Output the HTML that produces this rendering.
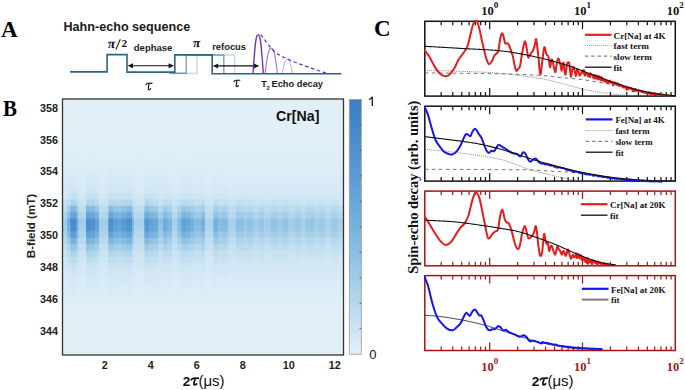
<!DOCTYPE html>
<html><head><meta charset="utf-8"><style>
html,body{margin:0;padding:0;background:#fff;}
body{width:685px;height:390px;overflow:hidden;}
svg{display:block;}
</style></head><body>
<svg width="685" height="390" viewBox="0 0 685 390">
<g font-family='"Liberation Serif", serif' font-weight="bold" font-size="23" fill="#000">
<text x="1" y="37.1">A</text>
<text transform="translate(3 115.6) scale(0.91 1)">B</text>
<text x="374" y="36">C</text>
</g>
<text x="63.5" y="30.8" font-family='"Liberation Sans", sans-serif' font-weight="bold" font-size="12.6" fill="#1a1a1a">Hahn-echo sequence</text>
<path d="M169.5 73.3 H186.3 V54.9 H223.8 V73.6" fill="none" stroke="#2a6386" stroke-width="1.5" opacity="0.55"/>
<path d="M169.5 73.5 H197 V54.9 H234.6 V73.6" fill="none" stroke="#2a6386" stroke-width="1.5" opacity="0.25"/>
<path d="M70 71.9 H107.1 V54.6 H127 V72.1 H174.8 V54.9 H212.2 V73.7 H341.5" fill="none" stroke="#2a6386" stroke-width="1.6" stroke-linejoin="miter"/>
<line x1="130.6" y1="65.8" x2="171.0" y2="65.8" stroke="#111" stroke-width="1.1"/><path d="M127.6 65.8 l5.4 -2.5 v5 z" fill="#111"/><path d="M174.0 65.8 l-5.4 -2.5 v5 z" fill="#111"/>
<line x1="215.8" y1="65.9" x2="256.3" y2="65.9" stroke="#111" stroke-width="1.1"/><path d="M212.8 65.9 l5.4 -2.5 v5 z" fill="#111"/><path d="M259.3 65.9 l-5.4 -2.5 v5 z" fill="#111"/>
<path d="M253.0 73.6 C255.3 38.5 256.3 34.6 258.1 34.6 C259.9 34.6 261.0 38.5 263.3 73.6" fill="none" stroke="#6a2cc0" stroke-width="1.3"/>
<path d="M265.1 73.6 C267.9 50.9 269.1 48.4 271.3 48.4 C273.5 48.4 274.7 50.9 277.5 73.6" fill="none" stroke="#6a2cc0" stroke-width="1.1" opacity="0.65"/>
<path d="M282.2 73.6 C284.5 60.7 285.5 59.3 287.3 59.3 C289.1 59.3 290.1 60.7 292.4 73.6" fill="none" stroke="#6a2cc0" stroke-width="1.0" opacity="0.42"/>
<path d="M260.80 34.60 L261.50 35.57 L262.20 36.54 L262.90 37.50 L263.60 38.46 L264.30 39.41 L265.00 40.37 L265.70 41.32 L266.40 42.24 L267.10 43.11 L267.80 43.96 L268.50 44.82 L269.20 45.68 L269.90 46.54 L270.60 47.38 L271.30 48.20 L272.00 49.01 L272.70 49.78 L273.40 50.52 L274.10 51.21 L274.80 51.83 L275.50 52.41 L276.20 52.94 L276.90 53.43 L277.60 53.89 L278.30 54.32 L279.00 54.73 L279.70 55.14 L280.40 55.54 L281.10 55.94 L281.80 56.32 L282.50 56.68 L283.20 57.02 L283.90 57.35 L284.60 57.68 L285.30 58.00 L286.00 58.31 L286.70 58.63 L287.40 58.95 L288.10 59.26 L288.80 59.58 L289.50 59.89 L290.20 60.19 L290.90 60.50 L291.60 60.80 L292.30 61.09 L293.00 61.39 L293.70 61.68 L294.40 61.96 L295.10 62.24 L295.80 62.51 L296.50 62.78 L297.20 63.05 L297.90 63.31 L298.60 63.57 L299.30 63.83 L300.00 64.08 L300.70 64.33 L301.40 64.58 L302.10 64.83 L302.80 65.08 L303.50 65.34 L304.20 65.59 L304.90 65.84 L305.60 66.09 L306.30 66.34 L307.00 66.59 L307.70 66.84 L308.40 67.09 L309.10 67.33 L309.80 67.58 L310.50 67.83 L311.20 68.07 L311.90 68.32 L312.60 68.56 L313.30 68.81 L314.00 69.05 L314.70 69.30 L315.40 69.54 L316.10 69.78 L316.80 70.02 L317.50 70.26 L318.20 70.50 L318.90 70.73 L319.60 70.97 L320.30 71.21 L321.00 71.45 L321.70 71.68 L322.40 71.92 L323.10 72.15 L323.80 72.39 L324.50 72.62 L325.20 72.86 L325.90 73.10 L326.60 73.33" fill="none" stroke="#6a2cc0" stroke-width="1.2" stroke-dasharray="3.6 2.6"/>
<g font-family='"Liberation Sans", sans-serif' font-weight="bold" fill="#1a1a1a">
<text x="133.8" y="50.8" font-size="9.5">dephase</text>
<text x="212.2" y="50.2" font-size="9.4">refocus</text>
<text x="261.3" y="87.3" font-size="8.95">T<tspan font-size="5.6" dy="2.3" dx="-0.3">2</tspan><tspan dy="-2.3" dx="-0.6" font-size="9.25"> Echo decay</tspan></text>
</g>
<g font-family='"Liberation Serif", serif' fill="#111">
<text transform="translate(107.3 47.8) skewX(-8)" font-size="13.4" font-weight="bold">&#960;</text>
<line x1="115.9" y1="49.6" x2="120.3" y2="39.3" stroke="#111" stroke-width="1.05"/>
<text x="121.4" y="47.3" font-size="11.2" font-weight="bold">2</text>
<text transform="translate(192.5 46.8) skewX(-8)" font-size="13" font-weight="bold">&#960;</text>
</g>
<path d="M145.90 84.70 C146.40 83.60 147.00 83.25 148.00 83.20 L152.10 83.10 M149.20 83.30 C148.70 85.50 148.00 87.80 148.30 89.20 C148.60 90.20 150.00 89.90 150.60 88.60" fill="none" stroke="#111" stroke-width="1.15" stroke-linecap="round"/>
<path d="M233.90 81.72 C234.38 80.67 234.94 80.34 235.90 80.30 L239.79 80.20 M237.03 80.39 C236.56 82.48 235.90 84.67 236.18 86.00 C236.47 86.95 237.80 86.66 238.37 85.42" fill="none" stroke="#111" stroke-width="1.15" stroke-linecap="round"/>
<defs>
<linearGradient id="hcol" gradientUnits="userSpaceOnUse" x1="62.5" y1="0" x2="343.5" y2="0"><stop offset="0.0000" stop-color="#fff" stop-opacity="0.190"/><stop offset="0.0160" stop-color="#fff" stop-opacity="0.190"/><stop offset="0.0167" stop-color="#fff" stop-opacity="0.450"/><stop offset="0.0278" stop-color="#fff" stop-opacity="0.450"/><stop offset="0.0288" stop-color="#fff" stop-opacity="0.850"/><stop offset="0.0491" stop-color="#fff" stop-opacity="0.850"/><stop offset="0.0502" stop-color="#fff" stop-opacity="0.500"/><stop offset="0.0562" stop-color="#fff" stop-opacity="0.500"/><stop offset="0.0573" stop-color="#fff" stop-opacity="0.190"/><stop offset="0.0829" stop-color="#fff" stop-opacity="0.190"/><stop offset="0.0840" stop-color="#fff" stop-opacity="0.820"/><stop offset="0.0989" stop-color="#fff" stop-opacity="0.820"/><stop offset="0.1000" stop-color="#fff" stop-opacity="0.780"/><stop offset="0.1149" stop-color="#fff" stop-opacity="0.780"/><stop offset="0.1160" stop-color="#fff" stop-opacity="0.600"/><stop offset="0.1292" stop-color="#fff" stop-opacity="0.600"/><stop offset="0.1302" stop-color="#fff" stop-opacity="0.190"/><stop offset="0.1630" stop-color="#fff" stop-opacity="0.190"/><stop offset="0.1641" stop-color="#fff" stop-opacity="0.800"/><stop offset="0.1790" stop-color="#fff" stop-opacity="0.800"/><stop offset="0.1801" stop-color="#fff" stop-opacity="0.650"/><stop offset="0.1950" stop-color="#fff" stop-opacity="0.650"/><stop offset="0.1961" stop-color="#fff" stop-opacity="0.600"/><stop offset="0.2110" stop-color="#fff" stop-opacity="0.600"/><stop offset="0.2121" stop-color="#fff" stop-opacity="0.700"/><stop offset="0.2288" stop-color="#fff" stop-opacity="0.700"/><stop offset="0.2299" stop-color="#fff" stop-opacity="0.800"/><stop offset="0.2466" stop-color="#fff" stop-opacity="0.800"/><stop offset="0.2477" stop-color="#fff" stop-opacity="0.400"/><stop offset="0.2537" stop-color="#fff" stop-opacity="0.400"/><stop offset="0.2548" stop-color="#fff" stop-opacity="0.150"/><stop offset="0.2911" stop-color="#fff" stop-opacity="0.150"/><stop offset="0.2922" stop-color="#fff" stop-opacity="0.720"/><stop offset="0.3071" stop-color="#fff" stop-opacity="0.720"/><stop offset="0.3082" stop-color="#fff" stop-opacity="0.600"/><stop offset="0.3231" stop-color="#fff" stop-opacity="0.600"/><stop offset="0.3242" stop-color="#fff" stop-opacity="0.550"/><stop offset="0.3391" stop-color="#fff" stop-opacity="0.550"/><stop offset="0.3402" stop-color="#fff" stop-opacity="0.300"/><stop offset="0.3569" stop-color="#fff" stop-opacity="0.300"/><stop offset="0.3580" stop-color="#fff" stop-opacity="0.500"/><stop offset="0.3730" stop-color="#fff" stop-opacity="0.500"/><stop offset="0.3740" stop-color="#fff" stop-opacity="0.400"/><stop offset="0.3890" stop-color="#fff" stop-opacity="0.400"/><stop offset="0.3900" stop-color="#fff" stop-opacity="0.150"/><stop offset="0.4085" stop-color="#fff" stop-opacity="0.150"/><stop offset="0.4096" stop-color="#fff" stop-opacity="0.350"/><stop offset="0.4228" stop-color="#fff" stop-opacity="0.350"/><stop offset="0.4238" stop-color="#fff" stop-opacity="0.600"/><stop offset="0.4388" stop-color="#fff" stop-opacity="0.600"/><stop offset="0.4399" stop-color="#fff" stop-opacity="0.550"/><stop offset="0.4548" stop-color="#fff" stop-opacity="0.550"/><stop offset="0.4559" stop-color="#fff" stop-opacity="0.450"/><stop offset="0.4680" stop-color="#fff" stop-opacity="0.450"/><stop offset="0.4690" stop-color="#fff" stop-opacity="0.350"/><stop offset="0.4922" stop-color="#fff" stop-opacity="0.350"/><stop offset="0.4932" stop-color="#fff" stop-opacity="0.450"/><stop offset="0.5064" stop-color="#fff" stop-opacity="0.450"/><stop offset="0.5075" stop-color="#fff" stop-opacity="0.123"/><stop offset="0.5367" stop-color="#fff" stop-opacity="0.123"/><stop offset="0.5377" stop-color="#fff" stop-opacity="0.451"/><stop offset="0.5527" stop-color="#fff" stop-opacity="0.451"/><stop offset="0.5537" stop-color="#fff" stop-opacity="0.328"/><stop offset="0.5669" stop-color="#fff" stop-opacity="0.328"/><stop offset="0.5680" stop-color="#fff" stop-opacity="0.369"/><stop offset="0.5847" stop-color="#fff" stop-opacity="0.369"/><stop offset="0.5858" stop-color="#fff" stop-opacity="0.246"/><stop offset="0.5936" stop-color="#fff" stop-opacity="0.246"/><stop offset="0.5947" stop-color="#fff" stop-opacity="0.123"/><stop offset="0.6160" stop-color="#fff" stop-opacity="0.180"/><stop offset="0.6174" stop-color="#fff" stop-opacity="0.270"/><stop offset="0.6185" stop-color="#fff" stop-opacity="0.324"/><stop offset="0.6409" stop-color="#fff" stop-opacity="0.306"/><stop offset="0.6566" stop-color="#fff" stop-opacity="0.216"/><stop offset="0.6577" stop-color="#fff" stop-opacity="0.297"/><stop offset="0.6779" stop-color="#fff" stop-opacity="0.288"/><stop offset="0.6790" stop-color="#fff" stop-opacity="0.198"/><stop offset="0.6982" stop-color="#fff" stop-opacity="0.198"/><stop offset="0.6993" stop-color="#fff" stop-opacity="0.270"/><stop offset="0.7171" stop-color="#fff" stop-opacity="0.270"/><stop offset="0.7181" stop-color="#fff" stop-opacity="0.180"/><stop offset="0.7399" stop-color="#fff" stop-opacity="0.180"/><stop offset="0.7409" stop-color="#fff" stop-opacity="0.270"/><stop offset="0.7655" stop-color="#fff" stop-opacity="0.270"/><stop offset="0.7665" stop-color="#fff" stop-opacity="0.198"/><stop offset="0.7811" stop-color="#fff" stop-opacity="0.198"/><stop offset="0.7822" stop-color="#fff" stop-opacity="0.270"/><stop offset="0.8036" stop-color="#fff" stop-opacity="0.270"/><stop offset="0.8046" stop-color="#fff" stop-opacity="0.180"/><stop offset="0.8260" stop-color="#fff" stop-opacity="0.180"/><stop offset="0.8270" stop-color="#fff" stop-opacity="0.252"/><stop offset="0.8488" stop-color="#fff" stop-opacity="0.252"/><stop offset="0.8498" stop-color="#fff" stop-opacity="0.162"/><stop offset="0.8644" stop-color="#fff" stop-opacity="0.162"/><stop offset="0.8655" stop-color="#fff" stop-opacity="0.252"/><stop offset="0.8964" stop-color="#fff" stop-opacity="0.252"/><stop offset="0.8975" stop-color="#fff" stop-opacity="0.180"/><stop offset="0.9125" stop-color="#fff" stop-opacity="0.180"/><stop offset="0.9135" stop-color="#fff" stop-opacity="0.234"/><stop offset="0.9349" stop-color="#fff" stop-opacity="0.234"/><stop offset="0.9359" stop-color="#fff" stop-opacity="0.144"/><stop offset="0.9537" stop-color="#fff" stop-opacity="0.144"/><stop offset="0.9548" stop-color="#fff" stop-opacity="0.234"/><stop offset="0.9794" stop-color="#fff" stop-opacity="0.234"/><stop offset="0.9804" stop-color="#fff" stop-opacity="0.162"/><stop offset="1.0000" stop-color="#fff" stop-opacity="0.162"/></linearGradient>
<linearGradient id="vrow" gradientUnits="userSpaceOnUse" x1="0" y1="99.0" x2="0" y2="355.0"><stop offset="0.0000" stop-color="#fff" stop-opacity="0.000"/><stop offset="0.1715" stop-color="#fff" stop-opacity="0.000"/><stop offset="0.1879" stop-color="#fff" stop-opacity="0.000"/><stop offset="0.1965" stop-color="#fff" stop-opacity="0.010"/><stop offset="0.2129" stop-color="#fff" stop-opacity="0.010"/><stop offset="0.2215" stop-color="#fff" stop-opacity="0.012"/><stop offset="0.2379" stop-color="#fff" stop-opacity="0.012"/><stop offset="0.2465" stop-color="#fff" stop-opacity="0.015"/><stop offset="0.2629" stop-color="#fff" stop-opacity="0.015"/><stop offset="0.2715" stop-color="#fff" stop-opacity="0.020"/><stop offset="0.2879" stop-color="#fff" stop-opacity="0.020"/><stop offset="0.2965" stop-color="#fff" stop-opacity="0.030"/><stop offset="0.3129" stop-color="#fff" stop-opacity="0.030"/><stop offset="0.3215" stop-color="#fff" stop-opacity="0.040"/><stop offset="0.3379" stop-color="#fff" stop-opacity="0.040"/><stop offset="0.3465" stop-color="#fff" stop-opacity="0.060"/><stop offset="0.3629" stop-color="#fff" stop-opacity="0.060"/><stop offset="0.3715" stop-color="#fff" stop-opacity="0.090"/><stop offset="0.3879" stop-color="#fff" stop-opacity="0.090"/><stop offset="0.3965" stop-color="#fff" stop-opacity="0.200"/><stop offset="0.4129" stop-color="#fff" stop-opacity="0.200"/><stop offset="0.4215" stop-color="#fff" stop-opacity="0.460"/><stop offset="0.4379" stop-color="#fff" stop-opacity="0.460"/><stop offset="0.4465" stop-color="#fff" stop-opacity="0.700"/><stop offset="0.4629" stop-color="#fff" stop-opacity="0.700"/><stop offset="0.4715" stop-color="#fff" stop-opacity="1.000"/><stop offset="0.4879" stop-color="#fff" stop-opacity="1.000"/><stop offset="0.4965" stop-color="#fff" stop-opacity="0.950"/><stop offset="0.5129" stop-color="#fff" stop-opacity="0.950"/><stop offset="0.5215" stop-color="#fff" stop-opacity="0.740"/><stop offset="0.5379" stop-color="#fff" stop-opacity="0.740"/><stop offset="0.5465" stop-color="#fff" stop-opacity="0.520"/><stop offset="0.5629" stop-color="#fff" stop-opacity="0.520"/><stop offset="0.5715" stop-color="#fff" stop-opacity="0.340"/><stop offset="0.5879" stop-color="#fff" stop-opacity="0.340"/><stop offset="0.5965" stop-color="#fff" stop-opacity="0.210"/><stop offset="0.6129" stop-color="#fff" stop-opacity="0.210"/><stop offset="0.6215" stop-color="#fff" stop-opacity="0.130"/><stop offset="0.6379" stop-color="#fff" stop-opacity="0.130"/><stop offset="0.6465" stop-color="#fff" stop-opacity="0.080"/><stop offset="0.6629" stop-color="#fff" stop-opacity="0.080"/><stop offset="0.6715" stop-color="#fff" stop-opacity="0.060"/><stop offset="0.6879" stop-color="#fff" stop-opacity="0.060"/><stop offset="0.6965" stop-color="#fff" stop-opacity="0.045"/><stop offset="0.7129" stop-color="#fff" stop-opacity="0.045"/><stop offset="0.7215" stop-color="#fff" stop-opacity="0.035"/><stop offset="0.7379" stop-color="#fff" stop-opacity="0.035"/><stop offset="0.7465" stop-color="#fff" stop-opacity="0.025"/><stop offset="0.7629" stop-color="#fff" stop-opacity="0.025"/><stop offset="0.7715" stop-color="#fff" stop-opacity="0.015"/><stop offset="0.7879" stop-color="#fff" stop-opacity="0.015"/><stop offset="0.7965" stop-color="#fff" stop-opacity="0.010"/><stop offset="0.8129" stop-color="#fff" stop-opacity="0.010"/><stop offset="0.8215" stop-color="#fff" stop-opacity="0.000"/><stop offset="0.8379" stop-color="#fff" stop-opacity="0.000"/><stop offset="1.0000" stop-color="#fff" stop-opacity="0.000"/></linearGradient>
<linearGradient id="vbg" gradientUnits="userSpaceOnUse" x1="0" y1="99.0" x2="0" y2="355.0"><stop offset="0.0000" stop-color="rgb(0,0,0)"/><stop offset="0.1715" stop-color="rgb(0,0,0)"/><stop offset="0.1879" stop-color="rgb(0,0,0)"/><stop offset="0.1965" stop-color="rgb(2,2,2)"/><stop offset="0.2129" stop-color="rgb(2,2,2)"/><stop offset="0.2215" stop-color="rgb(3,3,3)"/><stop offset="0.2379" stop-color="rgb(3,3,3)"/><stop offset="0.2465" stop-color="rgb(4,4,4)"/><stop offset="0.2629" stop-color="rgb(4,4,4)"/><stop offset="0.2715" stop-color="rgb(5,5,5)"/><stop offset="0.2879" stop-color="rgb(5,5,5)"/><stop offset="0.2965" stop-color="rgb(7,7,7)"/><stop offset="0.3129" stop-color="rgb(7,7,7)"/><stop offset="0.3215" stop-color="rgb(8,8,8)"/><stop offset="0.3379" stop-color="rgb(8,8,8)"/><stop offset="0.3465" stop-color="rgb(10,10,10)"/><stop offset="0.3629" stop-color="rgb(10,10,10)"/><stop offset="0.3715" stop-color="rgb(13,13,13)"/><stop offset="0.3879" stop-color="rgb(13,13,13)"/><stop offset="0.3965" stop-color="rgb(18,18,18)"/><stop offset="0.4129" stop-color="rgb(18,18,18)"/><stop offset="0.4215" stop-color="rgb(23,23,23)"/><stop offset="0.4379" stop-color="rgb(23,23,23)"/><stop offset="0.4465" stop-color="rgb(26,26,26)"/><stop offset="0.4629" stop-color="rgb(26,26,26)"/><stop offset="0.4715" stop-color="rgb(31,31,31)"/><stop offset="0.4879" stop-color="rgb(31,31,31)"/><stop offset="0.4965" stop-color="rgb(31,31,31)"/><stop offset="0.5129" stop-color="rgb(31,31,31)"/><stop offset="0.5215" stop-color="rgb(26,26,26)"/><stop offset="0.5379" stop-color="rgb(26,26,26)"/><stop offset="0.5465" stop-color="rgb(23,23,23)"/><stop offset="0.5629" stop-color="rgb(23,23,23)"/><stop offset="0.5715" stop-color="rgb(20,20,20)"/><stop offset="0.5879" stop-color="rgb(20,20,20)"/><stop offset="0.5965" stop-color="rgb(18,18,18)"/><stop offset="0.6129" stop-color="rgb(18,18,18)"/><stop offset="0.6215" stop-color="rgb(15,15,15)"/><stop offset="0.6379" stop-color="rgb(15,15,15)"/><stop offset="0.6465" stop-color="rgb(13,13,13)"/><stop offset="0.6629" stop-color="rgb(13,13,13)"/><stop offset="0.6715" stop-color="rgb(10,10,10)"/><stop offset="0.6879" stop-color="rgb(10,10,10)"/><stop offset="0.6965" stop-color="rgb(8,8,8)"/><stop offset="0.7129" stop-color="rgb(8,8,8)"/><stop offset="0.7215" stop-color="rgb(6,6,6)"/><stop offset="0.7379" stop-color="rgb(6,6,6)"/><stop offset="0.7465" stop-color="rgb(5,5,5)"/><stop offset="0.7629" stop-color="rgb(5,5,5)"/><stop offset="0.7715" stop-color="rgb(3,3,3)"/><stop offset="0.7879" stop-color="rgb(3,3,3)"/><stop offset="0.7965" stop-color="rgb(1,1,1)"/><stop offset="0.8129" stop-color="rgb(1,1,1)"/><stop offset="0.8215" stop-color="rgb(0,0,0)"/><stop offset="0.8379" stop-color="rgb(0,0,0)"/><stop offset="1.0000" stop-color="rgb(0,0,0)"/></linearGradient>
<mask id="mrow" maskUnits="userSpaceOnUse" x="62.5" y="99.0" width="281.0" height="256.0"><rect x="62.5" y="99.0" width="281.0" height="256.0" fill="url(#vrow)"/></mask>
<filter id="cmap" filterUnits="userSpaceOnUse" x="62.5" y="99.0" width="281.0" height="256.0" color-interpolation-filters="sRGB"><feGaussianBlur stdDeviation="0.6"/><feComponentTransfer><feFuncR type="table" tableValues="0.8824 0.6667 0.4627 0.3333 0.2353"/><feFuncG type="table" tableValues="0.9412 0.8235 0.6980 0.5882 0.4902"/><feFuncB type="table" tableValues="0.9725 0.9216 0.8667 0.8235 0.7686"/><feFuncA type="identity"/></feComponentTransfer></filter>
<linearGradient id="cbar" x1="0" y1="1" x2="0" y2="0"><stop offset="0.00" stop-color="rgb(225,240,248)"/><stop offset="0.25" stop-color="rgb(170,210,235)"/><stop offset="0.50" stop-color="rgb(118,178,221)"/><stop offset="0.75" stop-color="rgb(85,150,210)"/><stop offset="1.00" stop-color="rgb(60,125,196)"/></linearGradient>
</defs>
<g filter="url(#cmap)">
<rect x="62.5" y="99.0" width="281.0" height="256.0" fill="url(#vbg)"/>
<rect x="62.5" y="99.0" width="281.0" height="256.0" fill="url(#hcol)" mask="url(#mrow)"/>
</g>
<rect x="62.5" y="99.0" width="281.0" height="256.0" fill="none" stroke="#333" stroke-width="1.3"/>
<text x="276" y="121.4" font-family='"Liberation Sans", sans-serif' font-weight="bold" font-size="14.2" fill="#111">Cr[Na]</text>
<g font-family='"Liberation Sans", sans-serif' font-weight="bold" font-size="10.8" fill="#222" text-anchor="end">
<text x="58" y="111.5">358</text>
<text x="58" y="143.5">356</text>
<text x="58" y="175.4">354</text>
<text x="58" y="207.3">352</text>
<text x="58" y="239.2">350</text>
<text x="58" y="271.1">348</text>
<text x="58" y="303.0">346</text>
<text x="58" y="334.9">344</text>
</g>
<g font-family='"Liberation Sans", sans-serif' font-weight="bold" font-size="10.8" fill="#222" text-anchor="middle">
<text x="104.8" y="368.8">2</text>
<text x="150.8" y="368.8">4</text>
<text x="196.8" y="368.8">6</text>
<text x="242.8" y="368.8">8</text>
<text x="288.8" y="368.8">10</text>
<text x="334.8" y="368.8">12</text>
</g>
<text transform="translate(34.6 226) rotate(-90)" text-anchor="middle" font-family='"Liberation Sans", sans-serif' font-weight="bold" font-size="11.6" fill="#222">B-field (mT)</text>
<g fill="#111"><text x="182.8" y="385.6" font-family='"Liberation Sans", sans-serif' font-weight="bold" font-size="13.6">2</text><path d="M191.30 379.80 C191.80 378.90 192.40 378.50 193.40 378.40 L198.30 378.20 M195.30 378.60 C194.60 380.50 193.70 382.60 193.80 384.00 C193.90 385.00 195.20 385.20 196.60 383.80" fill="none" stroke="#111" stroke-width="1.75" stroke-linecap="round"/><text x="198.4" y="385.6" font-family='"Liberation Sans", sans-serif' font-size="15">(&#956;s)</text></g>
<rect x="349.3" y="99.5" width="12" height="254.7" fill="url(#cbar)" stroke="#999" stroke-width="0.8"/>
<line x1="359.6" x2="361.3" y1="328.7" y2="328.7" stroke="#444" stroke-width="0.8"/>
<line x1="359.6" x2="361.3" y1="303.3" y2="303.3" stroke="#444" stroke-width="0.8"/>
<line x1="359.6" x2="361.3" y1="277.8" y2="277.8" stroke="#444" stroke-width="0.8"/>
<line x1="359.6" x2="361.3" y1="252.3" y2="252.3" stroke="#444" stroke-width="0.8"/>
<line x1="359.6" x2="361.3" y1="226.8" y2="226.8" stroke="#444" stroke-width="0.8"/>
<line x1="359.6" x2="361.3" y1="201.4" y2="201.4" stroke="#444" stroke-width="0.8"/>
<line x1="359.6" x2="361.3" y1="175.9" y2="175.9" stroke="#444" stroke-width="0.8"/>
<line x1="359.6" x2="361.3" y1="150.4" y2="150.4" stroke="#444" stroke-width="0.8"/>
<line x1="359.6" x2="361.3" y1="125.0" y2="125.0" stroke="#444" stroke-width="0.8"/>
<g font-family='"Liberation Sans", sans-serif' font-size="13" fill="#111">
</g><path d="M372.3 105.9 V96.7 M372.3 96.8 C371.6 98.2 370.5 99.0 369.0 99.6" fill="none" stroke="#111" stroke-width="1.25"/><g font-family='"Liberation Sans", sans-serif' font-size="13" fill="#111">
<text x="369.3" y="358.5">0</text>
</g>
<defs><clipPath id="cb0"><rect x="423.8" y="19.8" width="252.5" height="77.8"/></clipPath><clipPath id="cb1"><rect x="423.8" y="104.7" width="252.5" height="77.9"/></clipPath><clipPath id="cb2"><rect x="423.8" y="189.6" width="252.5" height="77.7"/></clipPath><clipPath id="cb3"><rect x="423.8" y="274.1" width="252.5" height="77.9"/></clipPath></defs>
<rect x="424.8" y="21.3" width="250.5" height="74.8" fill="none" stroke="#111" stroke-width="1.5"/>
<path d="M441.18 21.30v4.0M441.18 96.10v-4.0M452.77 21.30v4.0M452.77 96.10v-4.0M461.76 21.30v4.0M461.76 96.10v-4.0M469.11 21.30v4.0M469.11 96.10v-4.0M475.33 21.30v4.0M475.33 96.10v-4.0M480.71 21.30v4.0M480.71 96.10v-4.0M485.45 21.30v4.0M485.45 96.10v-4.0M489.70 21.30v8.0M489.70 96.10v-8.0M517.64 21.30v4.0M517.64 96.10v-4.0M533.98 21.30v4.0M533.98 96.10v-4.0M545.57 21.30v4.0M545.57 96.10v-4.0M554.56 21.30v4.0M554.56 96.10v-4.0M561.91 21.30v4.0M561.91 96.10v-4.0M568.13 21.30v4.0M568.13 96.10v-4.0M573.51 21.30v4.0M573.51 96.10v-4.0M578.25 21.30v4.0M578.25 96.10v-4.0M582.50 21.30v8.0M582.50 96.10v-8.0M610.44 21.30v4.0M610.44 96.10v-4.0M626.78 21.30v4.0M626.78 96.10v-4.0M638.37 21.30v4.0M638.37 96.10v-4.0M647.36 21.30v4.0M647.36 96.10v-4.0M654.71 21.30v4.0M654.71 96.10v-4.0M660.93 21.30v4.0M660.93 96.10v-4.0M666.31 21.30v4.0M666.31 96.10v-4.0M671.05 21.30v4.0M671.05 96.10v-4.0" stroke="#111" stroke-width="1.2" fill="none"/>
<rect x="424.8" y="106.2" width="250.5" height="74.9" fill="none" stroke="#111" stroke-width="1.5"/>
<path d="M441.18 106.20v4.0M441.18 181.10v-4.0M452.77 106.20v4.0M452.77 181.10v-4.0M461.76 106.20v4.0M461.76 181.10v-4.0M469.11 106.20v4.0M469.11 181.10v-4.0M475.33 106.20v4.0M475.33 181.10v-4.0M480.71 106.20v4.0M480.71 181.10v-4.0M485.45 106.20v4.0M485.45 181.10v-4.0M489.70 106.20v8.0M489.70 181.10v-8.0M517.64 106.20v4.0M517.64 181.10v-4.0M533.98 106.20v4.0M533.98 181.10v-4.0M545.57 106.20v4.0M545.57 181.10v-4.0M554.56 106.20v4.0M554.56 181.10v-4.0M561.91 106.20v4.0M561.91 181.10v-4.0M568.13 106.20v4.0M568.13 181.10v-4.0M573.51 106.20v4.0M573.51 181.10v-4.0M578.25 106.20v4.0M578.25 181.10v-4.0M582.50 106.20v8.0M582.50 181.10v-8.0M610.44 106.20v4.0M610.44 181.10v-4.0M626.78 106.20v4.0M626.78 181.10v-4.0M638.37 106.20v4.0M638.37 181.10v-4.0M647.36 106.20v4.0M647.36 181.10v-4.0M654.71 106.20v4.0M654.71 181.10v-4.0M660.93 106.20v4.0M660.93 181.10v-4.0M666.31 106.20v4.0M666.31 181.10v-4.0M671.05 106.20v4.0M671.05 181.10v-4.0" stroke="#111" stroke-width="1.2" fill="none"/>
<rect x="424.8" y="191.1" width="250.5" height="74.7" fill="none" stroke="#a31515" stroke-width="1.5"/>
<path d="M441.18 191.10v4.0M441.18 265.80v-4.0M452.77 191.10v4.0M452.77 265.80v-4.0M461.76 191.10v4.0M461.76 265.80v-4.0M469.11 191.10v4.0M469.11 265.80v-4.0M475.33 191.10v4.0M475.33 265.80v-4.0M480.71 191.10v4.0M480.71 265.80v-4.0M485.45 191.10v4.0M485.45 265.80v-4.0M489.70 191.10v8.0M489.70 265.80v-8.0M517.64 191.10v4.0M517.64 265.80v-4.0M533.98 191.10v4.0M533.98 265.80v-4.0M545.57 191.10v4.0M545.57 265.80v-4.0M554.56 191.10v4.0M554.56 265.80v-4.0M561.91 191.10v4.0M561.91 265.80v-4.0M568.13 191.10v4.0M568.13 265.80v-4.0M573.51 191.10v4.0M573.51 265.80v-4.0M578.25 191.10v4.0M578.25 265.80v-4.0M582.50 191.10v8.0M582.50 265.80v-8.0M610.44 191.10v4.0M610.44 265.80v-4.0M626.78 191.10v4.0M626.78 265.80v-4.0M638.37 191.10v4.0M638.37 265.80v-4.0M647.36 191.10v4.0M647.36 265.80v-4.0M654.71 191.10v4.0M654.71 265.80v-4.0M660.93 191.10v4.0M660.93 265.80v-4.0M666.31 191.10v4.0M666.31 265.80v-4.0M671.05 191.10v4.0M671.05 265.80v-4.0" stroke="#a31515" stroke-width="1.2" fill="none"/>
<rect x="424.8" y="275.6" width="250.5" height="74.9" fill="none" stroke="#a31515" stroke-width="1.5"/>
<path d="M441.18 275.60v4.0M441.18 350.50v-4.0M452.77 275.60v4.0M452.77 350.50v-4.0M461.76 275.60v4.0M461.76 350.50v-4.0M469.11 275.60v4.0M469.11 350.50v-4.0M475.33 275.60v4.0M475.33 350.50v-4.0M480.71 275.60v4.0M480.71 350.50v-4.0M485.45 275.60v4.0M485.45 350.50v-4.0M489.70 275.60v8.0M489.70 350.50v-8.0M517.64 275.60v4.0M517.64 350.50v-4.0M533.98 275.60v4.0M533.98 350.50v-4.0M545.57 275.60v4.0M545.57 350.50v-4.0M554.56 275.60v4.0M554.56 350.50v-4.0M561.91 275.60v4.0M561.91 350.50v-4.0M568.13 275.60v4.0M568.13 350.50v-4.0M573.51 275.60v4.0M573.51 350.50v-4.0M578.25 275.60v4.0M578.25 350.50v-4.0M582.50 275.60v8.0M582.50 350.50v-8.0M610.44 275.60v4.0M610.44 350.50v-4.0M626.78 275.60v4.0M626.78 350.50v-4.0M638.37 275.60v4.0M638.37 350.50v-4.0M647.36 275.60v4.0M647.36 350.50v-4.0M654.71 275.60v4.0M654.71 350.50v-4.0M660.93 275.60v4.0M660.93 350.50v-4.0M666.31 275.60v4.0M666.31 350.50v-4.0M671.05 275.60v4.0M671.05 350.50v-4.0" stroke="#a31515" stroke-width="1.2" fill="none"/>
<path d="M424.80 70.30 L425.80 70.33 L426.80 70.35 L427.80 70.38 L428.80 70.40 L429.80 70.43 L430.80 70.45 L431.80 70.48 L432.80 70.50 L433.80 70.52 L434.80 70.55 L435.80 70.57 L436.80 70.60 L437.80 70.62 L438.80 70.65 L439.80 70.67 L440.80 70.70 L441.80 70.72 L442.80 70.75 L443.80 70.77 L444.80 70.80 L445.80 70.83 L446.80 70.85 L447.80 70.88 L448.80 70.91 L449.80 70.94 L450.80 70.96 L451.80 70.99 L452.80 71.02 L453.80 71.05 L454.80 71.08 L455.80 71.11 L456.80 71.15 L457.80 71.18 L458.80 71.21 L459.80 71.24 L460.80 71.28 L461.80 71.32 L462.80 71.35 L463.80 71.39 L464.80 71.43 L465.80 71.47 L466.80 71.51 L467.80 71.55 L468.80 71.58 L469.80 71.62 L470.80 71.66 L471.80 71.69 L472.80 71.73 L473.80 71.77 L474.80 71.81 L475.80 71.84 L476.80 71.88 L477.80 71.92 L478.80 71.96 L479.80 72.01 L480.80 72.05 L481.80 72.09 L482.80 72.14 L483.80 72.19 L484.80 72.24 L485.80 72.29 L486.80 72.34 L487.80 72.40 L488.80 72.46 L489.80 72.52 L490.80 72.58 L491.80 72.65 L492.80 72.72 L493.80 72.79 L494.80 72.86 L495.80 72.94 L496.80 73.02 L497.80 73.11 L498.80 73.19 L499.80 73.28 L500.80 73.38 L501.80 73.47 L502.80 73.57 L503.80 73.67 L504.80 73.77 L505.80 73.88 L506.80 73.98 L507.80 74.09 L508.80 74.20 L509.80 74.31 L510.80 74.43 L511.80 74.54 L512.80 74.66 L513.80 74.77 L514.80 74.89 L515.80 75.02 L516.80 75.14 L517.80 75.26 L518.80 75.39 L519.80 75.51 L520.80 75.64 L521.80 75.77 L522.80 75.90 L523.80 76.03 L524.80 76.17 L525.80 76.30 L526.80 76.44 L527.80 76.57 L528.80 76.71 L529.80 76.85 L530.80 77.00 L531.80 77.14 L532.80 77.29 L533.80 77.43 L534.80 77.58 L535.80 77.74 L536.80 77.89 L537.80 78.05 L538.80 78.21 L539.80 78.37 L540.80 78.54 L541.80 78.71 L542.80 78.88 L543.80 79.07 L544.80 79.26 L545.80 79.46 L546.80 79.67 L547.80 79.89 L548.80 80.11 L549.80 80.34 L550.80 80.59 L551.80 80.84 L552.80 81.09 L553.80 81.35 L554.80 81.62 L555.80 81.89 L556.80 82.16 L557.80 82.43 L558.80 82.70 L559.80 82.96 L560.80 83.22 L561.80 83.47 L562.80 83.73 L563.80 83.99 L564.80 84.25 L565.80 84.52 L566.80 84.79 L567.80 85.06 L568.80 85.34 L569.80 85.62 L570.80 85.90 L571.80 86.18 L572.80 86.46 L573.80 86.74 L574.80 87.02 L575.80 87.29 L576.80 87.56 L577.80 87.83 L578.80 88.09 L579.80 88.35 L580.80 88.60 L581.80 88.84 L582.80 89.07 L583.80 89.30 L584.80 89.52 L585.80 89.73 L586.80 89.94 L587.80 90.14 L588.80 90.33 L589.80 90.52 L590.80 90.71 L591.80 90.90 L592.80 91.08 L593.80 91.25 L594.80 91.43 L595.80 91.60 L596.80 91.77 L597.80 91.94 L598.80 92.10 L599.80 92.27 L600.80 92.43 L601.80 92.59 L602.80 92.75 L603.80 92.90 L604.80 93.06 L605.80 93.22 L606.80 93.37 L607.80 93.53 L608.80 93.68 L609.80 93.83 L610.80 93.98 L611.80 94.12 L612.80 94.26 L613.80 94.38 L614.80 94.50 L615.80 94.61 L616.80 94.71 L617.80 94.80 L618.80 94.88 L619.80 94.96 L620.80 95.04 L621.80 95.10 L622.80 95.17 L623.80 95.23 L624.80 95.28 L625.80 95.33 L626.80 95.37 L627.80 95.41 L628.80 95.45 L629.80 95.48 L630.80 95.51 L631.80 95.54 L632.80 95.56 L633.80 95.58 L634.80 95.61 L635.80 95.63 L636.80 95.64 L637.80 95.66 L638.80 95.68 L639.80 95.70 L640.80 95.71 L641.80 95.73 L642.80 95.74 L643.80 95.75 L644.80 95.76 L645.80 95.77 L646.80 95.78 L647.80 95.78 L648.80 95.79 L649.80 95.80 L650.80 95.80 L651.80 95.81 L652.80 95.82 L653.80 95.82 L654.80 95.83 L655.80 95.83 L656.80 95.84 L657.80 95.84 L658.80 95.84 L659.80 95.85 L660.80 95.85 L661.80 95.85 L662.80 95.86 L663.80 95.86 L664.80 95.86 L665.80 95.87 L666.80 95.87 L667.80 95.87 L668.80 95.88 L669.80 95.88 L670.80 95.88 L671.80 95.89 L672.80 95.89 L673.80 95.89 L674.80 95.90" fill="none" stroke="#666" stroke-width="0.85" stroke-dasharray="1 1.1"/>
<path d="M424.80 72.90 L425.80 72.91 L426.80 72.92 L427.80 72.93 L428.80 72.94 L429.80 72.95 L430.80 72.96 L431.80 72.97 L432.80 72.98 L433.80 72.99 L434.80 73.00 L435.80 73.01 L436.80 73.02 L437.80 73.03 L438.80 73.04 L439.80 73.05 L440.80 73.06 L441.80 73.07 L442.80 73.08 L443.80 73.09 L444.80 73.10 L445.80 73.11 L446.80 73.12 L447.80 73.13 L448.80 73.14 L449.80 73.15 L450.80 73.16 L451.80 73.17 L452.80 73.18 L453.80 73.19 L454.80 73.20 L455.80 73.21 L456.80 73.22 L457.80 73.23 L458.80 73.24 L459.80 73.25 L460.80 73.26 L461.80 73.27 L462.80 73.28 L463.80 73.29 L464.80 73.30 L465.80 73.31 L466.80 73.32 L467.80 73.33 L468.80 73.35 L469.80 73.36 L470.80 73.37 L471.80 73.38 L472.80 73.39 L473.80 73.40 L474.80 73.42 L475.80 73.43 L476.80 73.44 L477.80 73.45 L478.80 73.46 L479.80 73.48 L480.80 73.49 L481.80 73.50 L482.80 73.52 L483.80 73.53 L484.80 73.54 L485.80 73.56 L486.80 73.57 L487.80 73.59 L488.80 73.60 L489.80 73.62 L490.80 73.63 L491.80 73.65 L492.80 73.67 L493.80 73.68 L494.80 73.70 L495.80 73.72 L496.80 73.74 L497.80 73.76 L498.80 73.78 L499.80 73.80 L500.80 73.82 L501.80 73.84 L502.80 73.86 L503.80 73.89 L504.80 73.91 L505.80 73.94 L506.80 73.96 L507.80 73.99 L508.80 74.02 L509.80 74.04 L510.80 74.07 L511.80 74.10 L512.80 74.13 L513.80 74.17 L514.80 74.20 L515.80 74.23 L516.80 74.27 L517.80 74.30 L518.80 74.34 L519.80 74.38 L520.80 74.42 L521.80 74.46 L522.80 74.50 L523.80 74.54 L524.80 74.58 L525.80 74.63 L526.80 74.67 L527.80 74.72 L528.80 74.77 L529.80 74.82 L530.80 74.87 L531.80 74.93 L532.80 74.98 L533.80 75.03 L534.80 75.09 L535.80 75.15 L536.80 75.21 L537.80 75.27 L538.80 75.33 L539.80 75.39 L540.80 75.45 L541.80 75.52 L542.80 75.59 L543.80 75.66 L544.80 75.74 L545.80 75.82 L546.80 75.91 L547.80 76.01 L548.80 76.11 L549.80 76.21 L550.80 76.32 L551.80 76.43 L552.80 76.55 L553.80 76.67 L554.80 76.79 L555.80 76.91 L556.80 77.03 L557.80 77.15 L558.80 77.27 L559.80 77.38 L560.80 77.49 L561.80 77.59 L562.80 77.69 L563.80 77.79 L564.80 77.88 L565.80 77.98 L566.80 78.07 L567.80 78.16 L568.80 78.26 L569.80 78.35 L570.80 78.44 L571.80 78.53 L572.80 78.63 L573.80 78.72 L574.80 78.82 L575.80 78.91 L576.80 79.01 L577.80 79.11 L578.80 79.22 L579.80 79.33 L580.80 79.44 L581.80 79.55 L582.80 79.67 L583.80 79.80 L584.80 79.93 L585.80 80.07 L586.80 80.22 L587.80 80.37 L588.80 80.53 L589.80 80.69 L590.80 80.86 L591.80 81.03 L592.80 81.21 L593.80 81.38 L594.80 81.56 L595.80 81.74 L596.80 81.92 L597.80 82.10 L598.80 82.28 L599.80 82.45 L600.80 82.62 L601.80 82.78 L602.80 82.94 L603.80 83.09 L604.80 83.23 L605.80 83.37 L606.80 83.51 L607.80 83.65 L608.80 83.80 L609.80 83.95 L610.80 84.11 L611.80 84.28 L612.80 84.46 L613.80 84.65 L614.80 84.84 L615.80 85.04 L616.80 85.25 L617.80 85.45 L618.80 85.66 L619.80 85.87 L620.80 86.09 L621.80 86.30 L622.80 86.52 L623.80 86.74 L624.80 86.96 L625.80 87.19 L626.80 87.42 L627.80 87.65 L628.80 87.88 L629.80 88.13 L630.80 88.38 L631.80 88.64 L632.80 88.90 L633.80 89.16 L634.80 89.43 L635.80 89.69 L636.80 89.94 L637.80 90.19 L638.80 90.43 L639.80 90.66 L640.80 90.87 L641.80 91.09 L642.80 91.30 L643.80 91.51 L644.80 91.71 L645.80 91.91 L646.80 92.10 L647.80 92.30 L648.80 92.49 L649.80 92.67 L650.80 92.86 L651.80 93.04 L652.80 93.21 L653.80 93.38 L654.80 93.55 L655.80 93.71 L656.80 93.86 L657.80 94.01 L658.80 94.16 L659.80 94.29 L660.80 94.42 L661.80 94.54 L662.80 94.66 L663.80 94.77 L664.80 94.88 L665.80 94.98 L666.80 95.06 L667.80 95.14 L668.80 95.21 L669.80 95.28 L670.80 95.34 L671.80 95.40 L672.80 95.46 L673.80 95.51 L674.80 95.57" fill="none" stroke="#666" stroke-width="1.00" stroke-dasharray="3.6 3.4"/>
<path d="M424.80 50.50 C425.55 51.50 427.58 53.68 429.30 56.50 C431.02 59.32 433.35 64.57 435.10 67.40 C436.85 70.23 438.18 72.02 439.80 73.50 C441.42 74.98 443.22 76.08 444.80 76.30 C446.38 76.52 447.67 76.22 449.30 74.80 C450.93 73.38 453.13 70.20 454.60 67.80 C456.07 65.40 456.88 62.53 458.10 60.40 C459.32 58.27 460.62 56.80 461.90 55.00 C463.18 53.20 464.77 51.40 465.80 49.60 C466.83 47.80 467.33 46.63 468.10 44.20 C468.87 41.77 469.63 38.08 470.40 35.00 C471.17 31.92 471.93 28.07 472.70 25.70 C473.47 23.33 474.23 21.43 475.00 20.80 C475.77 20.17 476.52 20.32 477.30 21.90 C478.08 23.48 478.92 27.10 479.70 30.30 C480.48 33.50 481.23 37.63 482.00 41.10 C482.77 44.57 483.53 48.02 484.30 51.10 C485.07 54.18 485.78 57.42 486.60 59.60 C487.42 61.78 488.30 63.95 489.20 64.20 C490.10 64.45 491.15 62.50 492.00 61.10 C492.85 59.70 493.53 57.08 494.30 55.80 C495.07 54.52 495.90 54.30 496.60 53.40 C497.30 52.50 497.95 52.55 498.50 50.40 C499.05 48.25 499.35 43.32 499.90 40.50 C500.45 37.68 501.20 34.20 501.80 33.50 C502.40 32.80 502.93 34.67 503.50 36.30 C504.07 37.93 504.62 42.13 505.20 43.30 C505.78 44.47 506.47 43.18 507.00 43.30 C507.53 43.42 507.82 43.05 508.40 44.00 C508.98 44.95 509.80 47.12 510.50 49.00 C511.20 50.88 511.90 52.48 512.60 55.30 C513.30 58.12 514.07 63.32 514.70 65.90 C515.33 68.48 515.80 70.33 516.40 70.80 C517.00 71.27 517.68 69.52 518.30 68.70 C518.92 67.88 519.47 68.48 520.10 65.90 C520.73 63.32 521.35 57.20 522.10 53.20 C522.85 49.20 523.95 43.32 524.60 41.90 C525.25 40.48 525.42 42.23 526.00 44.70 C526.58 47.17 527.62 54.70 528.10 56.70 C528.58 58.70 528.42 57.28 528.90 56.70 C529.38 56.12 530.30 54.25 531.00 53.20 C531.70 52.15 532.43 51.93 533.10 50.40 C533.77 48.87 534.48 45.82 535.00 44.00 C535.52 42.18 535.65 37.58 536.20 39.50 C536.75 41.42 537.62 49.68 538.30 55.50 C538.98 61.32 539.62 73.65 540.30 74.40 C540.98 75.15 541.72 64.53 542.40 60.00 C543.08 55.47 543.73 48.13 544.40 47.20 C545.07 46.27 545.72 52.78 546.40 54.40 C547.08 56.02 547.90 54.77 548.50 56.90 C549.10 59.03 549.42 66.77 550.00 67.20 C550.58 67.63 551.15 58.73 552.00 59.50 C552.85 60.27 554.35 70.80 555.10 71.80 C555.85 72.80 556.03 67.67 556.50 65.50 C556.97 63.33 557.47 59.73 557.90 58.80 C558.33 57.87 558.65 58.78 559.10 59.90 C559.55 61.02 560.17 63.72 560.60 65.50 C561.03 67.28 561.35 70.85 561.70 70.60 C562.05 70.35 562.37 65.18 562.70 64.00 C563.03 62.82 563.27 61.72 563.70 63.50 C564.13 65.28 564.78 74.37 565.30 74.70 C565.82 75.03 566.38 67.55 566.80 65.50 C567.22 63.45 567.37 62.65 567.80 62.40 C568.23 62.15 568.88 61.60 569.40 64.00 C569.92 66.40 570.40 76.03 570.90 76.80 C571.40 77.57 571.97 70.23 572.40 68.60 C572.83 66.97 573.07 66.32 573.50 67.00 C573.93 67.68 574.58 71.23 575.00 72.70 C575.42 74.17 575.65 76.32 576.00 75.80 C576.35 75.28 576.67 70.28 577.10 69.60 C577.53 68.92 578.18 70.67 578.60 71.70 C579.02 72.73 579.08 75.72 579.60 75.80 C580.12 75.88 581.35 72.80 581.70 72.20 L582.50 70.79 L582.95 71.69 L583.40 73.26 L583.85 70.08 L584.30 71.59 L584.75 75.66 L585.20 74.95 L585.65 74.06 L586.10 74.18 L586.55 73.77 L587.00 74.66 L587.45 75.23 L587.90 76.15 L588.35 74.14 L588.80 76.22 L589.25 76.55 L589.70 76.13 L590.15 76.88 L590.60 73.23 L591.05 73.94 L591.50 75.08 L591.95 74.65 L592.40 75.19 L592.85 76.20 L593.30 77.71 L593.75 77.96 L594.20 78.37 L594.65 75.10 L595.10 78.55 L595.55 77.09 L596.00 75.81 L596.45 77.43 L596.90 75.56 L597.35 79.38 L597.80 78.79 L598.25 76.42 L598.70 78.97 L599.15 76.36 L599.60 76.54 L600.05 77.79 L600.50 80.36 L600.95 80.57 L601.40 77.36 L601.85 77.37 L602.30 78.90 L602.75 80.36 L603.20 78.90 L603.65 81.09 L604.10 79.74 L604.55 80.52 L605.00 80.39 L605.45 81.84 L605.90 80.29 L606.35 79.81 L606.80 82.42 L607.25 82.64 L607.70 83.14 L608.15 81.76 L608.60 81.90 L609.05 82.23 L609.50 82.47 L609.95 80.47 L610.40 82.68 L610.85 81.51 L611.30 82.73 L611.75 82.18 L612.20 82.35 L612.65 82.30 L613.10 85.41 L613.55 83.91 L614.00 82.54 L614.45 82.74 L614.90 83.47 L615.35 82.65 L615.80 83.48 L616.25 83.93 L616.70 83.32 L617.15 84.83 L617.60 84.41 L618.05 83.64 L618.50 83.99 L618.95 85.92 L619.40 84.53 L619.85 85.66 L620.30 85.00 L620.75 85.01 L621.20 85.10 L621.65 85.63 L622.10 85.76 L622.55 86.92 L623.00 87.26 L623.45 86.25 L623.90 87.66 L624.35 87.32 L624.80 87.25 L625.25 86.44 L625.70 86.43 L626.15 87.47 L626.60 89.72 L627.05 88.00 L627.50 88.63 L627.95 89.37 L628.40 87.13 L628.85 88.45 L629.30 87.99 L629.75 88.60 L630.20 87.88 L630.65 88.54 L631.10 88.38 L631.55 88.94 L632.00 88.23 L632.45 90.08 L632.90 91.18 L633.35 91.08 L633.80 88.98 L634.25 89.45 L634.70 91.06 L635.15 89.05 L635.60 89.05 L636.05 90.88 L636.50 90.23 L636.95 89.95 L637.40 90.77 L637.85 90.28 L638.30 90.33 L638.75 90.91 L639.20 90.65 L639.65 90.35 L640.10 91.32 L640.55 90.97 L641.00 91.56 L641.45 91.16 L641.90 91.90 L642.35 91.98 L642.80 91.21 L643.25 92.16 L643.70 91.74 L644.15 92.67 L644.60 91.84 L645.05 92.68 L645.50 92.18 L645.95 92.88 L646.40 93.09 L646.85 92.79 L647.30 92.69 L647.75 93.40 L648.20 93.75 L648.65 92.18 L649.10 93.38 L649.55 92.39 L650.00 93.35 L650.45 93.86 L650.90 94.58 L651.35 93.33 L651.80 92.80 L652.25 94.11 L652.70 93.28 L653.15 94.08 L653.60 93.24 L654.05 93.92 L654.50 93.69 L654.95 93.76 L655.40 93.86 L655.85 94.04 L656.30 93.99 L656.75 93.74 L657.20 94.56 L657.65 94.32 L658.10 94.53 L658.55 94.00 L659.00 94.77 L659.45 94.55 L659.90 94.84 L660.35 94.38 L660.80 94.79 L661.25 94.45 L661.70 95.28 L662.15 95.06 L662.60 95.26 L663.05 94.70 L663.50 94.51 L663.95 94.91 L664.40 94.93 L664.85 95.37 L665.30 95.60 L665.75 95.28 L666.20 95.52 L666.65 95.31 L667.10 95.48 L667.55 95.24" fill="none" stroke="#e81c1c" stroke-width="2.00" stroke-linejoin="round" stroke-linecap="round" clip-path="url(#cb0)"/>
<path d="M424.80 46.30 L425.80 46.36 L426.80 46.42 L427.80 46.47 L428.80 46.53 L429.80 46.59 L430.80 46.65 L431.80 46.70 L432.80 46.76 L433.80 46.82 L434.80 46.88 L435.80 46.94 L436.80 46.99 L437.80 47.05 L438.80 47.11 L439.80 47.17 L440.80 47.22 L441.80 47.28 L442.80 47.34 L443.80 47.40 L444.80 47.46 L445.80 47.51 L446.80 47.57 L447.80 47.63 L448.80 47.69 L449.80 47.75 L450.80 47.81 L451.80 47.87 L452.80 47.92 L453.80 47.98 L454.80 48.04 L455.80 48.10 L456.80 48.16 L457.80 48.22 L458.80 48.28 L459.80 48.34 L460.80 48.40 L461.80 48.46 L462.80 48.53 L463.80 48.59 L464.80 48.65 L465.80 48.71 L466.80 48.76 L467.80 48.82 L468.80 48.87 L469.80 48.92 L470.80 48.97 L471.80 49.02 L472.80 49.07 L473.80 49.12 L474.80 49.17 L475.80 49.22 L476.80 49.26 L477.80 49.31 L478.80 49.36 L479.80 49.41 L480.80 49.45 L481.80 49.50 L482.80 49.55 L483.80 49.60 L484.80 49.66 L485.80 49.71 L486.80 49.77 L487.80 49.82 L488.80 49.88 L489.80 49.95 L490.80 50.01 L491.80 50.08 L492.80 50.15 L493.80 50.22 L494.80 50.30 L495.80 50.38 L496.80 50.46 L497.80 50.55 L498.80 50.64 L499.80 50.74 L500.80 50.84 L501.80 50.95 L502.80 51.06 L503.80 51.18 L504.80 51.30 L505.80 51.43 L506.80 51.56 L507.80 51.70 L508.80 51.84 L509.80 51.99 L510.80 52.14 L511.80 52.29 L512.80 52.45 L513.80 52.61 L514.80 52.78 L515.80 52.95 L516.80 53.12 L517.80 53.30 L518.80 53.48 L519.80 53.66 L520.80 53.85 L521.80 54.04 L522.80 54.23 L523.80 54.43 L524.80 54.62 L525.80 54.83 L526.80 55.03 L527.80 55.23 L528.80 55.44 L529.80 55.65 L530.80 55.87 L531.80 56.08 L532.80 56.30 L533.80 56.51 L534.80 56.73 L535.80 56.96 L536.80 57.18 L537.80 57.40 L538.80 57.63 L539.80 57.85 L540.80 58.08 L541.80 58.32 L542.80 58.56 L543.80 58.80 L544.80 59.04 L545.80 59.29 L546.80 59.55 L547.80 59.81 L548.80 60.07 L549.80 60.33 L550.80 60.60 L551.80 60.88 L552.80 61.15 L553.80 61.43 L554.80 61.71 L555.80 61.99 L556.80 62.28 L557.80 62.57 L558.80 62.86 L559.80 63.15 L560.80 63.45 L561.80 63.75 L562.80 64.05 L563.80 64.35 L564.80 64.65 L565.80 64.96 L566.80 65.26 L567.80 65.57 L568.80 65.88 L569.80 66.19 L570.80 66.50 L571.80 66.83 L572.80 67.17 L573.80 67.51 L574.80 67.87 L575.80 68.24 L576.80 68.62 L577.80 69.02 L578.80 69.42 L579.80 69.83 L580.80 70.23 L581.80 70.63 L582.80 71.02 L583.80 71.40 L584.80 71.77 L585.80 72.15 L586.80 72.53 L587.80 72.90 L588.80 73.28 L589.80 73.66 L590.80 74.04 L591.80 74.41 L592.80 74.79 L593.80 75.17 L594.80 75.55 L595.80 75.93 L596.80 76.30 L597.80 76.68 L598.80 77.05 L599.80 77.42 L600.80 77.80 L601.80 78.18 L602.80 78.55 L603.80 78.93 L604.80 79.31 L605.80 79.68 L606.80 80.05 L607.80 80.43 L608.80 80.79 L609.80 81.16 L610.80 81.52 L611.80 81.88 L612.80 82.23 L613.80 82.58 L614.80 82.92 L615.80 83.27 L616.80 83.61 L617.80 83.94 L618.80 84.28 L619.80 84.61 L620.80 84.94 L621.80 85.26 L622.80 85.59 L623.80 85.91 L624.80 86.23 L625.80 86.54 L626.80 86.85 L627.80 87.16 L628.80 87.47 L629.80 87.77 L630.80 88.08 L631.80 88.38 L632.80 88.67 L633.80 88.96 L634.80 89.25 L635.80 89.52 L636.80 89.79 L637.80 90.05 L638.80 90.31 L639.80 90.55 L640.80 90.79 L641.80 91.02 L642.80 91.24 L643.80 91.46 L644.80 91.67 L645.80 91.88 L646.80 92.08 L647.80 92.28 L648.80 92.47 L649.80 92.66 L650.80 92.85 L651.80 93.03 L652.80 93.21 L653.80 93.38 L654.80 93.55 L655.80 93.72 L656.80 93.87 L657.80 94.02 L658.80 94.16 L659.80 94.30 L660.80 94.43 L661.80 94.55 L662.80 94.66 L663.80 94.77 L664.80 94.88 L665.80 94.98 L666.80 95.06 L667.80 95.14 L668.80 95.21 L669.80 95.28 L670.80 95.34 L671.80 95.40 L672.80 95.46 L673.80 95.51 L674.80 95.57" fill="none" stroke="#111" stroke-width="1.10"/>
<path d="M424.80 149.20 L425.80 149.30 L426.80 149.40 L427.80 149.50 L428.80 149.60 L429.80 149.69 L430.80 149.79 L431.80 149.89 L432.80 149.99 L433.80 150.09 L434.80 150.18 L435.80 150.28 L436.80 150.38 L437.80 150.48 L438.80 150.59 L439.80 150.69 L440.80 150.79 L441.80 150.90 L442.80 151.00 L443.80 151.11 L444.80 151.21 L445.80 151.32 L446.80 151.43 L447.80 151.55 L448.80 151.66 L449.80 151.78 L450.80 151.89 L451.80 152.01 L452.80 152.13 L453.80 152.25 L454.80 152.37 L455.80 152.49 L456.80 152.60 L457.80 152.72 L458.80 152.84 L459.80 152.97 L460.80 153.09 L461.80 153.21 L462.80 153.33 L463.80 153.46 L464.80 153.58 L465.80 153.71 L466.80 153.84 L467.80 153.97 L468.80 154.10 L469.80 154.23 L470.80 154.36 L471.80 154.50 L472.80 154.64 L473.80 154.78 L474.80 154.92 L475.80 155.06 L476.80 155.21 L477.80 155.36 L478.80 155.51 L479.80 155.67 L480.80 155.83 L481.80 155.99 L482.80 156.14 L483.80 156.30 L484.80 156.46 L485.80 156.62 L486.80 156.78 L487.80 156.94 L488.80 157.11 L489.80 157.28 L490.80 157.45 L491.80 157.63 L492.80 157.82 L493.80 158.01 L494.80 158.20 L495.80 158.41 L496.80 158.62 L497.80 158.84 L498.80 159.07 L499.80 159.31 L500.80 159.55 L501.80 159.81 L502.80 160.07 L503.80 160.35 L504.80 160.63 L505.80 160.93 L506.80 161.24 L507.80 161.57 L508.80 161.90 L509.80 162.25 L510.80 162.59 L511.80 162.95 L512.80 163.32 L513.80 163.68 L514.80 164.06 L515.80 164.43 L516.80 164.81 L517.80 165.19 L518.80 165.58 L519.80 165.96 L520.80 166.34 L521.80 166.73 L522.80 167.11 L523.80 167.49 L524.80 167.86 L525.80 168.24 L526.80 168.60 L527.80 168.96 L528.80 169.30 L529.80 169.63 L530.80 169.95 L531.80 170.26 L532.80 170.56 L533.80 170.84 L534.80 171.11 L535.80 171.37 L536.80 171.62 L537.80 171.86 L538.80 172.08 L539.80 172.30 L540.80 172.52 L541.80 172.74 L542.80 172.97 L543.80 173.20 L544.80 173.45 L545.80 173.70 L546.80 173.95 L547.80 174.21 L548.80 174.46 L549.80 174.72 L550.80 174.97 L551.80 175.22 L552.80 175.48 L553.80 175.72 L554.80 175.97 L555.80 176.21 L556.80 176.45 L557.80 176.68 L558.80 176.91 L559.80 177.13 L560.80 177.36 L561.80 177.59 L562.80 177.82 L563.80 178.05 L564.80 178.27 L565.80 178.49 L566.80 178.70 L567.80 178.91 L568.80 179.10 L569.80 179.29 L570.80 179.46 L571.80 179.62 L572.80 179.77 L573.80 179.90 L574.80 180.04 L575.80 180.21 L576.80 180.42 L577.80 180.54 L578.80 180.59 L579.80 180.63 L580.80 180.66 L581.80 180.68 L582.80 180.70 L583.80 180.72 L584.80 180.73 L585.80 180.75 L586.80 180.76 L587.80 180.77 L588.80 180.79 L589.80 180.80 L590.80 180.81 L591.80 180.82 L592.80 180.83 L593.80 180.84 L594.80 180.85 L595.80 180.85 L596.80 180.86 L597.80 180.87 L598.80 180.87 L599.80 180.88 L600.80 180.89 L601.80 180.89 L602.80 180.90 L603.80 180.90 L604.80 180.91 L605.80 180.91 L606.80 180.92 L607.80 180.92 L608.80 180.93 L609.80 180.93 L610.80 180.93 L611.80 180.94 L612.80 180.94 L613.80 180.95 L614.80 180.95 L615.80 180.95 L616.80 180.96 L617.80 180.96 L618.80 180.96 L619.80 180.97 L620.80 180.97 L621.80 180.97 L622.80 180.98 L623.80 180.98 L624.80 180.98 L625.80 180.98 L626.80 180.99 L627.80 180.99 L628.80 180.99 L629.80 181.00 L630.80 181.00 L631.80 181.00 L632.80 181.00 L633.80 181.01 L634.80 181.01 L635.80 181.01 L636.80 181.01 L637.80 181.02 L638.80 181.02 L639.80 181.02 L640.80 181.02 L641.80 181.03 L642.80 181.03 L643.80 181.03 L644.80 181.03 L645.80 181.03 L646.80 181.04 L647.80 181.04 L648.80 181.04 L649.80 181.04 L650.80 181.04 L651.80 181.05 L652.80 181.05 L653.80 181.05 L654.80 181.05 L655.80 181.05 L656.80 181.06 L657.80 181.06 L658.80 181.06 L659.80 181.06 L660.80 181.07 L661.80 181.07 L662.80 181.07 L663.80 181.07 L664.80 181.07 L665.80 181.08 L666.80 181.08 L667.80 181.08 L668.80 181.08 L669.80 181.08 L670.80 181.09 L671.80 181.09 L672.80 181.09 L673.80 181.10 L674.80 181.10" fill="none" stroke="#666" stroke-width="0.85" stroke-dasharray="1 1.1"/>
<path d="M424.80 169.30 L425.80 169.30 L426.80 169.31 L427.80 169.31 L428.80 169.32 L429.80 169.32 L430.80 169.32 L431.80 169.33 L432.80 169.33 L433.80 169.33 L434.80 169.34 L435.80 169.34 L436.80 169.34 L437.80 169.35 L438.80 169.35 L439.80 169.36 L440.80 169.36 L441.80 169.36 L442.80 169.37 L443.80 169.37 L444.80 169.37 L445.80 169.38 L446.80 169.38 L447.80 169.38 L448.80 169.39 L449.80 169.39 L450.80 169.40 L451.80 169.40 L452.80 169.40 L453.80 169.41 L454.80 169.41 L455.80 169.41 L456.80 169.42 L457.80 169.42 L458.80 169.42 L459.80 169.43 L460.80 169.43 L461.80 169.44 L462.80 169.44 L463.80 169.44 L464.80 169.45 L465.80 169.45 L466.80 169.46 L467.80 169.46 L468.80 169.46 L469.80 169.47 L470.80 169.47 L471.80 169.47 L472.80 169.48 L473.80 169.48 L474.80 169.49 L475.80 169.49 L476.80 169.49 L477.80 169.50 L478.80 169.50 L479.80 169.51 L480.80 169.51 L481.80 169.51 L482.80 169.52 L483.80 169.52 L484.80 169.53 L485.80 169.53 L486.80 169.54 L487.80 169.54 L488.80 169.54 L489.80 169.55 L490.80 169.55 L491.80 169.56 L492.80 169.56 L493.80 169.57 L494.80 169.57 L495.80 169.58 L496.80 169.58 L497.80 169.59 L498.80 169.59 L499.80 169.60 L500.80 169.60 L501.80 169.61 L502.80 169.62 L503.80 169.62 L504.80 169.63 L505.80 169.63 L506.80 169.63 L507.80 169.64 L508.80 169.64 L509.80 169.65 L510.80 169.65 L511.80 169.66 L512.80 169.66 L513.80 169.66 L514.80 169.67 L515.80 169.67 L516.80 169.68 L517.80 169.68 L518.80 169.69 L519.80 169.70 L520.80 169.71 L521.80 169.72 L522.80 169.73 L523.80 169.75 L524.80 169.77 L525.80 169.79 L526.80 169.81 L527.80 169.84 L528.80 169.86 L529.80 169.89 L530.80 169.93 L531.80 169.96 L532.80 170.00 L533.80 170.04 L534.80 170.09 L535.80 170.14 L536.80 170.20 L537.80 170.26 L538.80 170.32 L539.80 170.38 L540.80 170.45 L541.80 170.51 L542.80 170.58 L543.80 170.65 L544.80 170.73 L545.80 170.80 L546.80 170.87 L547.80 170.94 L548.80 171.00 L549.80 171.07 L550.80 171.13 L551.80 171.19 L552.80 171.24 L553.80 171.30 L554.80 171.35 L555.80 171.40 L556.80 171.45 L557.80 171.50 L558.80 171.55 L559.80 171.60 L560.80 171.65 L561.80 171.70 L562.80 171.75 L563.80 171.80 L564.80 171.85 L565.80 171.90 L566.80 171.95 L567.80 172.00 L568.80 172.06 L569.80 172.12 L570.80 172.18 L571.80 172.24 L572.80 172.31 L573.80 172.39 L574.80 172.46 L575.80 172.54 L576.80 172.62 L577.80 172.71 L578.80 172.80 L579.80 172.89 L580.80 172.99 L581.80 173.10 L582.80 173.21 L583.80 173.32 L584.80 173.44 L585.80 173.56 L586.80 173.68 L587.80 173.81 L588.80 173.94 L589.80 174.07 L590.80 174.21 L591.80 174.35 L592.80 174.50 L593.80 174.66 L594.80 174.82 L595.80 174.98 L596.80 175.14 L597.80 175.31 L598.80 175.47 L599.80 175.64 L600.80 175.81 L601.80 175.97 L602.80 176.13 L603.80 176.29 L604.80 176.45 L605.80 176.61 L606.80 176.76 L607.80 176.90 L608.80 177.04 L609.80 177.17 L610.80 177.30 L611.80 177.42 L612.80 177.54 L613.80 177.66 L614.80 177.77 L615.80 177.88 L616.80 177.99 L617.80 178.10 L618.80 178.20 L619.80 178.30 L620.80 178.40 L621.80 178.49 L622.80 178.58 L623.80 178.68 L624.80 178.76 L625.80 178.85 L626.80 178.94 L627.80 179.02 L628.80 179.10 L629.80 179.18 L630.80 179.26 L631.80 179.34 L632.80 179.42 L633.80 179.49 L634.80 179.56 L635.80 179.64 L636.80 179.70 L637.80 179.77 L638.80 179.83 L639.80 179.90 L640.80 179.95 L641.80 180.01 L642.80 180.07 L643.80 180.12 L644.80 180.17 L645.80 180.22 L646.80 180.26 L647.80 180.31 L648.80 180.35 L649.80 180.39 L650.80 180.43 L651.80 180.47 L652.80 180.50 L653.80 180.53 L654.80 180.56 L655.80 180.59 L656.80 180.61 L657.80 180.64 L658.80 180.66 L659.80 180.69 L660.80 180.71 L661.80 180.73 L662.80 180.75 L663.80 180.77 L664.80 180.79 L665.80 180.81 L666.80 180.83 L667.80 180.85 L668.80 180.87 L669.80 180.89 L670.80 180.91 L671.80 180.93 L672.80 180.95 L673.80 180.97 L674.80 180.99" fill="none" stroke="#666" stroke-width="1.00" stroke-dasharray="3.6 3.4"/>
<path d="M425.00 107.80 C425.50 108.98 426.85 111.42 428.00 114.90 C429.15 118.38 430.60 124.43 431.90 128.70 C433.20 132.97 434.48 137.53 435.80 140.50 C437.12 143.47 438.48 144.68 439.80 146.50 C441.12 148.32 442.22 150.15 443.70 151.40 C445.18 152.65 447.22 153.50 448.70 154.00 C450.18 154.50 451.28 154.83 452.60 154.40 C453.92 153.97 455.28 152.88 456.60 151.40 C457.92 149.92 459.35 147.63 460.50 145.50 C461.65 143.37 462.67 140.42 463.50 138.60 C464.33 136.78 464.85 135.33 465.50 134.60 C466.15 133.87 466.58 133.93 467.40 134.20 C468.22 134.47 469.57 136.62 470.40 136.20 C471.23 135.78 471.65 132.95 472.40 131.70 C473.15 130.45 474.15 128.87 474.90 128.70 C475.65 128.53 476.23 129.78 476.90 130.70 C477.57 131.62 478.17 133.07 478.90 134.20 C479.63 135.33 480.38 135.62 481.30 137.50 C482.22 139.38 483.53 143.33 484.40 145.50 C485.27 147.67 485.77 149.25 486.50 150.50 C487.23 151.75 487.98 152.95 488.80 153.00 C489.62 153.05 490.53 151.10 491.40 150.80 C492.27 150.50 493.15 151.75 494.00 151.20 C494.85 150.65 495.70 148.57 496.50 147.50 C497.30 146.43 497.75 144.83 498.80 144.80 C499.85 144.77 501.70 146.67 502.80 147.30 C503.90 147.93 504.38 147.95 505.40 148.60 C506.42 149.25 507.58 150.40 508.90 151.20 C510.22 152.00 511.98 152.97 513.30 153.40 C514.62 153.83 515.63 153.28 516.80 153.80 C517.97 154.32 519.28 156.72 520.30 156.50 C521.32 156.28 522.03 152.95 522.90 152.50 C523.77 152.05 524.70 152.78 525.50 153.80 C526.30 154.82 526.88 157.28 527.70 158.60 C528.52 159.92 529.15 161.70 530.40 161.70 C531.65 161.70 533.60 158.38 535.20 158.60 C536.80 158.82 538.78 162.17 540.00 163.00 C541.22 163.83 542.08 163.50 542.50 163.60" fill="none" stroke="#1414f0" stroke-width="2.00" stroke-linejoin="round" stroke-linecap="round" clip-path="url(#cb1)"/>
<path d="M542.50 163.60 L543.50 163.46 L544.30 163.86 L545.10 164.64 L545.90 164.15 L546.70 164.43 L547.50 164.77 L548.30 164.37 L549.10 165.08 L549.90 165.46 L550.70 165.91 L551.50 165.09 L552.30 165.60 L553.10 165.50 L553.90 166.75 L554.70 166.79 L555.50 166.06 L556.30 167.60 L557.10 167.77 L557.90 167.54 L558.70 167.69 L559.50 167.27 L560.30 167.28 L561.10 168.18 L561.90 167.76 L562.70 168.15 L563.50 168.43 L564.30 168.36 L565.10 169.13 L565.90 169.31 L566.70 170.02 L567.50 169.82 L568.30 170.17 L569.10 170.20 L569.90 170.60 L570.70 170.55 L571.50 170.53 L572.30 171.59 L573.10 171.78 L573.90 171.79 L574.70 171.82 L575.50 171.56 L576.30 171.65 L577.10 171.90 L577.90 171.84 L578.70 172.80 L579.50 172.57 L580.30 173.23 L581.10 172.90 L581.90 173.68 L582.70 173.73 L583.50 173.00 L584.30 173.39 L585.10 174.27 L585.90 173.98 L586.70 174.65 L587.50 174.22 L588.30 174.05 L589.10 174.75 L589.90 175.04 L590.70 174.70 L591.50 174.68 L592.30 175.05 L593.10 175.78 L593.90 175.73 L594.70 175.29 L595.50 175.54 L596.30 175.56 L597.10 175.66 L597.90 176.43 L598.70 176.03 L599.50 176.49 L600.30 176.52 L601.10 176.44 L601.90 177.01 L602.70 176.65 L603.50 177.18 L604.30 176.89 L605.10 177.25 L605.90 177.21 L606.70 177.37 L607.50 178.00 L608.30 177.99 L609.10 177.74 L609.90 178.26 L610.70 177.90 L611.50 178.14 L612.30 178.55 L613.10 178.51 L613.90 178.26 L614.70 178.93 L615.50 178.54 L616.30 178.67 L617.10 179.07 L617.90 178.90 L618.70 178.98 L619.50 178.95 L620.30 179.05 L621.10 179.41 L621.90 179.31 L622.70 179.59 L623.50 179.55 L624.30 179.67 L625.10 180.01 L625.90 179.84 L626.70 179.96 L627.50 180.18 L628.30 179.91 L629.10 179.97 L629.90 180.41 L630.70 180.44 L631.50 180.22 L632.30 180.25 L633.10 180.59 L633.90 180.75 L634.70 180.44 L635.50 180.87 L636.30 180.90 L637.10 180.81 L637.90 180.77 L638.70 180.67 L639.50 180.69 L640.30 181.20 L641.10 180.89 L641.90 181.16 L642.70 180.98 L643.50 181.31 L644.30 181.24 L645.10 181.12 L645.90 181.10 L646.70 181.41 L647.50 181.12 L648.30 181.23 L649.10 181.43 L649.90 181.61 L650.70 181.52 L651.50 181.38 L652.30 181.72 L653.10 181.39 L653.90 181.33 L654.70 181.48 L655.50 181.59 L656.30 181.42 L657.10 181.50 L657.90 181.62 L658.70 181.75 L659.50 181.55 L660.30 181.69 L661.10 181.97 L661.90 182.04" fill="none" stroke="#1414f0" stroke-width="1.7" stroke-linejoin="round"/>
<path d="M424.80 136.60 L425.80 136.72 L426.80 136.85 L427.80 136.97 L428.80 137.10 L429.80 137.22 L430.80 137.35 L431.80 137.47 L432.80 137.59 L433.80 137.72 L434.80 137.84 L435.80 137.97 L436.80 138.09 L437.80 138.22 L438.80 138.34 L439.80 138.47 L440.80 138.59 L441.80 138.72 L442.80 138.85 L443.80 138.97 L444.80 139.10 L445.80 139.23 L446.80 139.35 L447.80 139.48 L448.80 139.61 L449.80 139.73 L450.80 139.86 L451.80 139.98 L452.80 140.11 L453.80 140.24 L454.80 140.36 L455.80 140.49 L456.80 140.62 L457.80 140.75 L458.80 140.88 L459.80 141.02 L460.80 141.15 L461.80 141.29 L462.80 141.43 L463.80 141.57 L464.80 141.72 L465.80 141.86 L466.80 142.00 L467.80 142.14 L468.80 142.29 L469.80 142.43 L470.80 142.58 L471.80 142.73 L472.80 142.89 L473.80 143.05 L474.80 143.22 L475.80 143.39 L476.80 143.57 L477.80 143.76 L478.80 143.96 L479.80 144.16 L480.80 144.37 L481.80 144.58 L482.80 144.79 L483.80 145.01 L484.80 145.23 L485.80 145.45 L486.80 145.68 L487.80 145.91 L488.80 146.14 L489.80 146.38 L490.80 146.62 L491.80 146.86 L492.80 147.11 L493.80 147.36 L494.80 147.62 L495.80 147.87 L496.80 148.14 L497.80 148.40 L498.80 148.67 L499.80 148.94 L500.80 149.22 L501.80 149.51 L502.80 149.80 L503.80 150.10 L504.80 150.41 L505.80 150.71 L506.80 151.03 L507.80 151.34 L508.80 151.66 L509.80 151.99 L510.80 152.31 L511.80 152.64 L512.80 152.96 L513.80 153.29 L514.80 153.62 L515.80 153.94 L516.80 154.27 L517.80 154.59 L518.80 154.92 L519.80 155.24 L520.80 155.56 L521.80 155.88 L522.80 156.20 L523.80 156.53 L524.80 156.85 L525.80 157.18 L526.80 157.51 L527.80 157.84 L528.80 158.17 L529.80 158.50 L530.80 158.82 L531.80 159.15 L532.80 159.47 L533.80 159.79 L534.80 160.11 L535.80 160.43 L536.80 160.74 L537.80 161.04 L538.80 161.34 L539.80 161.64 L540.80 161.93 L541.80 162.22 L542.80 162.50 L543.80 162.78 L544.80 163.06 L545.80 163.33 L546.80 163.60 L547.80 163.87 L548.80 164.13 L549.80 164.39 L550.80 164.65 L551.80 164.91 L552.80 165.17 L553.80 165.42 L554.80 165.68 L555.80 165.93 L556.80 166.19 L557.80 166.44 L558.80 166.69 L559.80 166.95 L560.80 167.20 L561.80 167.46 L562.80 167.72 L563.80 167.97 L564.80 168.23 L565.80 168.49 L566.80 168.74 L567.80 169.00 L568.80 169.25 L569.80 169.50 L570.80 169.75 L571.80 170.00 L572.80 170.24 L573.80 170.48 L574.80 170.72 L575.80 170.96 L576.80 171.19 L577.80 171.42 L578.80 171.64 L579.80 171.86 L580.80 172.07 L581.80 172.28 L582.80 172.49 L583.80 172.69 L584.80 172.89 L585.80 173.09 L586.80 173.28 L587.80 173.48 L588.80 173.66 L589.80 173.85 L590.80 174.03 L591.80 174.21 L592.80 174.39 L593.80 174.57 L594.80 174.74 L595.80 174.91 L596.80 175.08 L597.80 175.24 L598.80 175.41 L599.80 175.57 L600.80 175.73 L601.80 175.88 L602.80 176.04 L603.80 176.19 L604.80 176.34 L605.80 176.49 L606.80 176.63 L607.80 176.77 L608.80 176.91 L609.80 177.05 L610.80 177.18 L611.80 177.31 L612.80 177.44 L613.80 177.57 L614.80 177.69 L615.80 177.82 L616.80 177.93 L617.80 178.05 L618.80 178.17 L619.80 178.28 L620.80 178.39 L621.80 178.49 L622.80 178.60 L623.80 178.70 L624.80 178.80 L625.80 178.89 L626.80 178.99 L627.80 179.08 L628.80 179.17 L629.80 179.25 L630.80 179.34 L631.80 179.42 L632.80 179.50 L633.80 179.57 L634.80 179.65 L635.80 179.72 L636.80 179.79 L637.80 179.86 L638.80 179.92 L639.80 179.99 L640.80 180.05 L641.80 180.11 L642.80 180.16 L643.80 180.21 L644.80 180.26 L645.80 180.31 L646.80 180.35 L647.80 180.40 L648.80 180.44 L649.80 180.48 L650.80 180.51 L651.80 180.55 L652.80 180.58 L653.80 180.61 L654.80 180.65 L655.80 180.68 L656.80 180.71 L657.80 180.74 L658.80 180.77 L659.80 180.79 L660.80 180.82 L661.80 180.85 L662.80 180.87 L663.80 180.88 L664.80 180.90 L665.80 180.92 L666.80 180.93 L667.80 180.94 L668.80 180.95 L669.80 180.96 L670.80 180.97 L671.80 180.97 L672.80 180.98 L673.80 180.99 L674.80 180.99" fill="none" stroke="#111" stroke-width="1.10"/>
<path d="M424.80 216.90 C425.33 217.68 426.48 219.17 428.00 221.60 C429.52 224.03 431.93 228.38 433.90 231.50 C435.87 234.62 437.83 238.07 439.80 240.30 C441.77 242.53 443.73 244.73 445.70 244.90 C447.67 245.07 449.78 243.22 451.60 241.30 C453.42 239.38 455.12 235.70 456.60 233.40 C458.08 231.10 459.18 229.13 460.50 227.50 C461.82 225.87 463.18 225.57 464.50 223.60 C465.82 221.63 467.08 219.65 468.40 215.70 C469.72 211.75 471.18 203.82 472.40 199.90 C473.62 195.98 474.55 192.53 475.70 192.20 C476.85 191.87 478.05 193.98 479.30 197.90 C480.55 201.82 481.88 209.45 483.20 215.70 C484.52 221.95 486.20 231.62 487.20 235.40 C488.20 239.18 488.38 238.57 489.20 238.40 C490.02 238.23 491.12 235.55 492.10 234.40 C493.08 233.25 494.12 232.32 495.10 231.50 C496.08 230.68 497.18 231.97 498.00 229.50 C498.82 227.03 499.27 219.97 500.00 216.70 C500.73 213.43 501.58 209.42 502.40 209.90 C503.22 210.38 504.15 217.48 504.90 219.60 C505.65 221.72 506.23 221.93 506.90 222.60 C507.57 223.27 508.08 222.12 508.90 223.60 C509.72 225.08 510.82 228.22 511.80 231.50 C512.78 234.78 513.87 240.42 514.80 243.30 C515.73 246.18 516.58 248.30 517.40 248.80 C518.22 249.30 518.92 248.87 519.70 246.30 C520.48 243.73 521.27 236.80 522.10 233.40 C522.93 230.00 523.93 226.07 524.70 225.90 C525.47 225.73 526.05 230.32 526.70 232.40 C527.35 234.48 527.78 237.73 528.60 238.40 C529.42 239.07 530.70 237.40 531.60 236.40 C532.50 235.40 533.33 234.15 534.00 232.40 C534.67 230.65 535.12 226.02 535.60 225.90 C536.08 225.78 536.47 228.60 536.90 231.70 C537.33 234.80 537.67 240.55 538.20 244.50 C538.73 248.45 539.45 254.12 540.10 255.40 C540.75 256.68 541.45 255.73 542.10 252.20 C542.75 248.67 543.47 236.23 544.00 234.20 C544.53 232.17 544.88 238.40 545.30 240.00 C545.72 241.60 546.08 243.37 546.50 243.80 C546.92 244.23 547.37 241.42 547.80 242.60 C548.23 243.78 548.67 250.15 549.10 250.90 C549.53 251.65 549.97 247.95 550.40 247.10 C550.83 246.25 551.27 245.38 551.70 245.80 C552.13 246.22 552.47 248.12 553.00 249.60 C553.53 251.08 554.37 254.48 554.90 254.70 C555.43 254.92 555.78 252.28 556.20 250.90 C556.62 249.52 556.98 246.72 557.40 246.40 C557.82 246.08 558.17 248.15 558.70 249.00 C559.23 249.85 560.07 250.55 560.60 251.50 C561.13 252.45 561.37 254.80 561.90 254.70 C562.43 254.60 563.15 250.68 563.80 250.90 C564.45 251.12 565.15 256.22 565.80 256.00 C566.45 255.78 567.17 250.23 567.70 249.60 C568.23 248.97 568.47 250.70 569.00 252.20 C569.53 253.70 570.27 258.18 570.90 258.60 C571.53 259.02 572.27 254.92 572.80 254.70 C573.33 254.48 573.88 256.87 574.10 257.30 L575.00 255.80 L575.45 256.83 L575.90 256.71 L576.35 253.38 L576.80 258.01 L577.25 257.96 L577.70 256.05 L578.15 256.57 L578.60 254.25 L579.05 255.67 L579.50 258.08 L579.95 258.37 L580.40 257.72 L580.85 255.14 L581.30 256.24 L581.75 259.78 L582.20 256.93 L582.65 258.17 L583.10 256.92 L583.55 259.12 L584.00 260.11 L584.45 258.08 L584.90 259.36 L585.35 262.01 L585.80 258.48 L586.25 260.51 L586.70 258.72 L587.15 263.36 L587.60 257.95 L588.05 263.78 L588.50 259.55 L588.95 260.00 L589.40 261.95 L589.85 261.38 L590.30 262.16 L590.75 260.29 L591.20 261.85 L591.65 261.89 L592.10 264.90 L592.55 260.05 L593.00 261.84 L593.45 261.13 L593.90 261.89 L594.35 261.33 L594.80 260.76 L595.25 262.66 L595.70 263.52 L596.15 262.43 L596.60 261.73 L597.05 263.39 L597.50 264.39 L597.95 261.54 L598.40 263.62 L598.85 263.43 L599.30 263.27 L599.75 262.17 L600.20 262.37 L600.65 262.79 L601.10 264.34 L601.55 264.34 L602.00 263.45 L602.45 263.52 L602.90 263.46 L603.35 263.50 L603.80 264.54 L604.25 263.85 L604.70 263.29 L605.15 264.38 L605.60 263.84 L606.05 264.44 L606.50 264.33 L606.95 264.02 L607.40 263.99 L607.85 264.54 L608.30 264.12" fill="none" stroke="#e81c1c" stroke-width="2.00" stroke-linejoin="round" stroke-linecap="round" clip-path="url(#cb2)"/>
<path d="M424.80 220.20 L425.80 220.25 L426.80 220.30 L427.80 220.35 L428.80 220.39 L429.80 220.44 L430.80 220.48 L431.80 220.53 L432.80 220.57 L433.80 220.62 L434.80 220.66 L435.80 220.71 L436.80 220.75 L437.80 220.80 L438.80 220.85 L439.80 220.90 L440.80 220.95 L441.80 221.00 L442.80 221.06 L443.80 221.11 L444.80 221.17 L445.80 221.23 L446.80 221.29 L447.80 221.35 L448.80 221.42 L449.80 221.49 L450.80 221.56 L451.80 221.63 L452.80 221.71 L453.80 221.79 L454.80 221.88 L455.80 221.98 L456.80 222.07 L457.80 222.18 L458.80 222.28 L459.80 222.39 L460.80 222.51 L461.80 222.63 L462.80 222.75 L463.80 222.87 L464.80 223.00 L465.80 223.13 L466.80 223.26 L467.80 223.39 L468.80 223.53 L469.80 223.67 L470.80 223.81 L471.80 223.95 L472.80 224.09 L473.80 224.23 L474.80 224.38 L475.80 224.52 L476.80 224.67 L477.80 224.81 L478.80 224.96 L479.80 225.11 L480.80 225.25 L481.80 225.40 L482.80 225.54 L483.80 225.69 L484.80 225.83 L485.80 225.98 L486.80 226.12 L487.80 226.27 L488.80 226.42 L489.80 226.57 L490.80 226.73 L491.80 226.88 L492.80 227.04 L493.80 227.20 L494.80 227.36 L495.80 227.52 L496.80 227.68 L497.80 227.85 L498.80 228.01 L499.80 228.18 L500.80 228.35 L501.80 228.52 L502.80 228.69 L503.80 228.87 L504.80 229.04 L505.80 229.21 L506.80 229.37 L507.80 229.54 L508.80 229.70 L509.80 229.87 L510.80 230.04 L511.80 230.21 L512.80 230.39 L513.80 230.58 L514.80 230.78 L515.80 230.99 L516.80 231.21 L517.80 231.44 L518.80 231.69 L519.80 231.95 L520.80 232.22 L521.80 232.51 L522.80 232.80 L523.80 233.11 L524.80 233.43 L525.80 233.75 L526.80 234.08 L527.80 234.42 L528.80 234.77 L529.80 235.11 L530.80 235.47 L531.80 235.82 L532.80 236.18 L533.80 236.54 L534.80 236.89 L535.80 237.25 L536.80 237.61 L537.80 237.96 L538.80 238.32 L539.80 238.67 L540.80 239.03 L541.80 239.38 L542.80 239.74 L543.80 240.10 L544.80 240.46 L545.80 240.82 L546.80 241.19 L547.80 241.56 L548.80 241.93 L549.80 242.31 L550.80 242.69 L551.80 243.07 L552.80 243.46 L553.80 243.85 L554.80 244.25 L555.80 244.66 L556.80 245.07 L557.80 245.50 L558.80 245.93 L559.80 246.37 L560.80 246.82 L561.80 247.27 L562.80 247.73 L563.80 248.19 L564.80 248.65 L565.80 249.11 L566.80 249.57 L567.80 250.03 L568.80 250.49 L569.80 250.95 L570.80 251.40 L571.80 251.84 L572.80 252.27 L573.80 252.70 L574.80 253.12 L575.80 253.54 L576.80 253.95 L577.80 254.36 L578.80 254.77 L579.80 255.18 L580.80 255.58 L581.80 255.99 L582.80 256.39 L583.80 256.78 L584.80 257.18 L585.80 257.57 L586.80 257.96 L587.80 258.34 L588.80 258.72 L589.80 259.10 L590.80 259.47 L591.80 259.84 L592.80 260.19 L593.80 260.53 L594.80 260.85 L595.80 261.15 L596.80 261.43 L597.80 261.69 L598.80 261.94 L599.80 262.18 L600.80 262.42 L601.80 262.67 L602.80 262.91 L603.80 263.13 L604.80 263.33 L605.80 263.53 L606.80 263.70 L607.80 263.87 L608.80 264.02 L609.80 264.15 L610.80 264.27 L611.80 264.37 L612.80 264.48 L613.80 264.58 L614.80 264.68 L615.80 264.78" fill="none" stroke="#111" stroke-width="1.10"/>
<path d="M424.80 315.30 L425.80 315.37 L426.80 315.44 L427.80 315.50 L428.80 315.57 L429.80 315.63 L430.80 315.70 L431.80 315.77 L432.80 315.84 L433.80 315.92 L434.80 316.00 L435.80 316.08 L436.80 316.17 L437.80 316.27 L438.80 316.37 L439.80 316.48 L440.80 316.60 L441.80 316.73 L442.80 316.86 L443.80 317.00 L444.80 317.14 L445.80 317.29 L446.80 317.43 L447.80 317.59 L448.80 317.74 L449.80 317.90 L450.80 318.06 L451.80 318.22 L452.80 318.39 L453.80 318.55 L454.80 318.72 L455.80 318.90 L456.80 319.07 L457.80 319.25 L458.80 319.43 L459.80 319.61 L460.80 319.79 L461.80 319.98 L462.80 320.17 L463.80 320.36 L464.80 320.56 L465.80 320.76 L466.80 320.96 L467.80 321.17 L468.80 321.38 L469.80 321.59 L470.80 321.81 L471.80 322.03 L472.80 322.25 L473.80 322.48 L474.80 322.71 L475.80 322.95 L476.80 323.18 L477.80 323.43 L478.80 323.67 L479.80 323.92 L480.80 324.18 L481.80 324.43 L482.80 324.70 L483.80 324.96 L484.80 325.23 L485.80 325.51 L486.80 325.79 L487.80 326.08 L488.80 326.38 L489.80 326.68 L490.80 326.99 L491.80 327.30 L492.80 327.61 L493.80 327.93 L494.80 328.24 L495.80 328.56 L496.80 328.88 L497.80 329.20 L498.80 329.52 L499.80 329.84 L500.80 330.15 L501.80 330.47 L502.80 330.79 L503.80 331.12 L504.80 331.44 L505.80 331.77 L506.80 332.09 L507.80 332.42 L508.80 332.75 L509.80 333.08 L510.80 333.41 L511.80 333.74 L512.80 334.06 L513.80 334.39 L514.80 334.72 L515.80 335.05 L516.80 335.37 L517.80 335.70 L518.80 336.02 L519.80 336.34 L520.80 336.65 L521.80 336.97 L522.80 337.29 L523.80 337.61 L524.80 337.93 L525.80 338.25 L526.80 338.56 L527.80 338.88 L528.80 339.19 L529.80 339.49 L530.80 339.80 L531.80 340.09 L532.80 340.38 L533.80 340.67 L534.80 340.94 L535.80 341.22 L536.80 341.49 L537.80 341.75 L538.80 342.01 L539.80 342.27 L540.80 342.52 L541.80 342.76 L542.80 343.01 L543.80 343.24 L544.80 343.47 L545.80 343.70 L546.80 343.92 L547.80 344.14 L548.80 344.35 L549.80 344.56 L550.80 344.76 L551.80 344.96 L552.80 345.15 L553.80 345.34 L554.80 345.52 L555.80 345.70 L556.80 345.88 L557.80 346.05 L558.80 346.22 L559.80 346.39 L560.80 346.55 L561.80 346.71 L562.80 346.87 L563.80 347.02 L564.80 347.17 L565.80 347.31 L566.80 347.46 L567.80 347.59 L568.80 347.73 L569.80 347.86 L570.80 347.98 L571.80 348.10 L572.80 348.21 L573.80 348.31 L574.80 348.40 L575.80 348.49 L576.80 348.57 L577.80 348.64 L578.80 348.72 L579.80 348.79 L580.80 348.85 L581.80 348.91 L582.80 348.97 L583.80 349.02 L584.80 349.07 L585.80 349.12 L586.80 349.17 L587.80 349.21 L588.80 349.26 L589.80 349.30 L590.80 349.34 L591.80 349.39 L592.80 349.43 L593.80 349.47 L594.80 349.51 L595.80 349.55 L596.80 349.59 L597.80 349.63 L598.80 349.67 L599.80 349.71 L600.80 349.75 L601.80 349.79" fill="none" stroke="#222" stroke-width="0.90"/>
<path d="M424.60 276.80 C425.17 278.30 426.78 281.67 428.00 285.80 C429.22 289.93 430.75 297.32 431.90 301.60 C433.05 305.88 433.92 308.70 434.90 311.50 C435.88 314.30 436.65 316.42 437.80 318.40 C438.95 320.38 440.32 321.75 441.80 323.40 C443.28 325.05 444.90 327.15 446.70 328.30 C448.50 329.45 450.95 330.47 452.60 330.30 C454.25 330.13 455.28 328.45 456.60 327.30 C457.92 326.15 459.35 325.05 460.50 323.40 C461.65 321.75 462.60 319.12 463.50 317.40 C464.40 315.68 465.25 313.75 465.90 313.10 C466.55 312.45 466.75 313.03 467.40 313.50 C468.05 313.97 468.97 316.23 469.80 315.90 C470.63 315.57 471.55 312.57 472.40 311.50 C473.25 310.43 474.08 309.33 474.90 309.50 C475.72 309.67 476.57 311.50 477.30 312.50 C478.03 313.50 478.63 315.00 479.30 315.50 C479.97 316.00 480.65 314.85 481.30 315.50 C481.95 316.15 482.38 317.50 483.20 319.40 C484.02 321.30 485.20 325.08 486.20 326.90 C487.20 328.72 488.22 329.90 489.20 330.30 C490.18 330.70 491.12 329.53 492.10 329.30 C493.08 329.07 494.12 329.40 495.10 328.90 C496.08 328.40 497.10 326.60 498.00 326.30 C498.90 326.00 499.67 326.43 500.50 327.10 C501.33 327.77 502.10 329.87 503.00 330.30 C503.90 330.73 504.92 329.38 505.90 329.70 C506.88 330.02 507.58 331.45 508.90 332.20 C510.22 332.95 512.00 333.43 513.80 334.20 C515.60 334.97 518.05 336.63 519.70 336.80 C521.35 336.97 522.53 335.13 523.70 335.20 C524.87 335.27 525.72 336.22 526.70 337.20 C527.68 338.18 528.45 340.52 529.60 341.10 C530.75 341.68 532.28 340.53 533.60 340.70 C534.92 340.87 536.18 341.63 537.50 342.10 C538.82 342.57 540.83 343.27 541.50 343.50" fill="none" stroke="#1414f0" stroke-width="2.00" stroke-linejoin="round" stroke-linecap="round" clip-path="url(#cb3)"/>
<path d="M541.50 343.50 L542.50 341.92 L543.30 342.49 L544.10 342.67 L544.90 343.00 L545.70 342.61 L546.50 342.83 L547.30 342.94 L548.10 343.18 L548.90 343.76 L549.70 343.45 L550.50 343.93 L551.30 343.84 L552.10 344.06 L552.90 344.32 L553.70 344.77 L554.50 344.75 L555.30 344.47 L556.10 344.80 L556.90 344.86 L557.70 345.48 L558.50 345.58 L559.30 345.70 L560.10 345.84 L560.90 345.92 L561.70 346.17 L562.50 346.20 L563.30 346.00 L564.10 346.47 L564.90 346.38 L565.70 346.64 L566.50 346.65 L567.30 346.69 L568.10 346.77 L568.90 346.91 L569.70 346.95 L570.50 346.96 L571.30 347.39 L572.10 347.47 L572.90 347.63 L573.70 347.58 L574.50 347.60 L575.30 347.74 L576.10 347.57 L576.90 347.84 L577.70 347.82 L578.50 347.78 L579.30 347.85 L580.10 348.01 L580.90 347.98 L581.70 348.09 L582.50 348.18 L583.30 348.16 L584.10 348.12 L584.90 348.27 L585.70 348.24 L586.50 348.27 L587.30 348.30 L588.10 348.39 L588.90 348.33 L589.70 348.54 L590.50 348.67 L591.30 348.53 L592.10 348.66 L592.90 348.76 L593.70 348.53 L594.50 348.59 L595.30 348.82 L596.10 348.86 L596.90 348.83 L597.70 348.72 L598.50 348.83 L599.30 349.00 L600.10 349.00 L600.90 349.00 L601.70 348.90 L602.50 349.00" fill="none" stroke="#1414f0" stroke-width="1.9" stroke-linejoin="round"/>
<g font-family='"Liberation Serif", serif' font-weight="bold" fill="#111"><text x="481.2" y="14.7" font-size="12.5">10<tspan font-size="9" dy="-6.9">0</tspan></text><text x="574.0" y="14.7" font-size="12.5">10<tspan font-size="9" dy="-6.9">1</tspan></text><text x="666.8" y="14.7" font-size="12.5">10<tspan font-size="9" dy="-6.9">2</tspan></text></g>
<g font-family='"Liberation Serif", serif' font-weight="bold" fill="#a31515"><text x="481.2" y="370.8" font-size="12.5">10<tspan font-size="9" dy="-6.9">0</tspan></text><text x="574.0" y="370.8" font-size="12.5">10<tspan font-size="9" dy="-6.9">1</tspan></text><text x="666.8" y="370.8" font-size="12.5">10<tspan font-size="9" dy="-6.9">2</tspan></text></g>
<g fill="#111"><text x="531.8" y="385.6" font-family='"Liberation Sans", sans-serif' font-weight="bold" font-size="13.6">2</text><path d="M540.30 379.80 C540.80 378.90 541.40 378.50 542.40 378.40 L547.30 378.20 M544.30 378.60 C543.60 380.50 542.70 382.60 542.80 384.00 C542.90 385.00 544.20 385.20 545.60 383.80" fill="none" stroke="#111" stroke-width="1.75" stroke-linecap="round"/><text x="547.4" y="385.6" font-family='"Liberation Sans", sans-serif' font-size="15">(&#956;s)</text></g>
<text transform="translate(418.3 187.2) rotate(-90)" text-anchor="middle" font-family='"Liberation Serif", serif' font-weight="bold" font-size="14.5" fill="#111">Spin-echo decay (arb. units)</text>
<line x1="584.9" x2="611.5" y1="34.8" y2="34.8" stroke="#e81c1c" stroke-width="2.2"/><text x="613.5" y="38.5" font-family='"Liberation Serif", serif' font-weight="bold" font-size="9.2" fill="#111">Cr[Na] at 4K</text><line x1="584.9" x2="611.5" y1="45.6" y2="45.6" stroke="#777" stroke-width="0.9" stroke-dasharray="0.9 1.1"/><text x="613.5" y="49.3" font-family='"Liberation Serif", serif' font-weight="bold" font-size="9.2" fill="#111">fast term</text><line x1="584.9" x2="611.5" y1="56.1" y2="56.1" stroke="#666" stroke-width="1" stroke-dasharray="3.5 2.8"/><text x="613.5" y="59.8" font-family='"Liberation Serif", serif' font-weight="bold" font-size="9.2" fill="#111">slow term</text><line x1="584.9" x2="611.5" y1="67.2" y2="67.2" stroke="#111" stroke-width="1.3"/><text x="613.5" y="70.9" font-family='"Liberation Serif", serif' font-weight="bold" font-size="9.2" fill="#111">fit</text>
<line x1="585.8" x2="612.5" y1="119.4" y2="119.4" stroke="#1414f0" stroke-width="2.2"/><text x="615.4" y="123.1" font-family='"Liberation Serif", serif' font-weight="bold" font-size="8.9" fill="#111">Fe[Na] at 4K</text><line x1="585.8" x2="612.5" y1="130.6" y2="130.6" stroke="#777" stroke-width="0.9" stroke-dasharray="0.9 1.1"/><text x="615.4" y="134.3" font-family='"Liberation Serif", serif' font-weight="bold" font-size="8.9" fill="#111">fast term</text><line x1="585.8" x2="612.5" y1="141.3" y2="141.3" stroke="#666" stroke-width="1" stroke-dasharray="3.5 2.8"/><text x="615.4" y="145.0" font-family='"Liberation Serif", serif' font-weight="bold" font-size="8.9" fill="#111">slow term</text><line x1="585.8" x2="612.5" y1="152.2" y2="152.2" stroke="#111" stroke-width="1.3"/><text x="615.4" y="155.9" font-family='"Liberation Serif", serif' font-weight="bold" font-size="8.9" fill="#111">fit</text>
<line x1="580.9" x2="607.5" y1="204.2" y2="204.2" stroke="#e81c1c" stroke-width="2.2"/><text x="610.1" y="207.9" font-family='"Liberation Serif", serif' font-weight="bold" font-size="9.0" fill="#111">Cr[Na] at 20K</text><line x1="580.9" x2="607.5" y1="215.2" y2="215.2" stroke="#111" stroke-width="1.3"/><text x="610.1" y="218.9" font-family='"Liberation Serif", serif' font-weight="bold" font-size="9.0" fill="#111">fit</text>
<line x1="581.9" x2="608.5" y1="288.8" y2="288.8" stroke="#1414f0" stroke-width="2.2"/><text x="611.1" y="292.5" font-family='"Liberation Serif", serif' font-weight="bold" font-size="9.0" fill="#111">Fe[Na] at 20K</text><line x1="581.9" x2="608.5" y1="299.6" y2="299.6" stroke="#777" stroke-width="1.9"/><text x="611.1" y="303.3" font-family='"Liberation Serif", serif' font-weight="bold" font-size="9.0" fill="#111">fit</text>
</svg>
</body></html>
